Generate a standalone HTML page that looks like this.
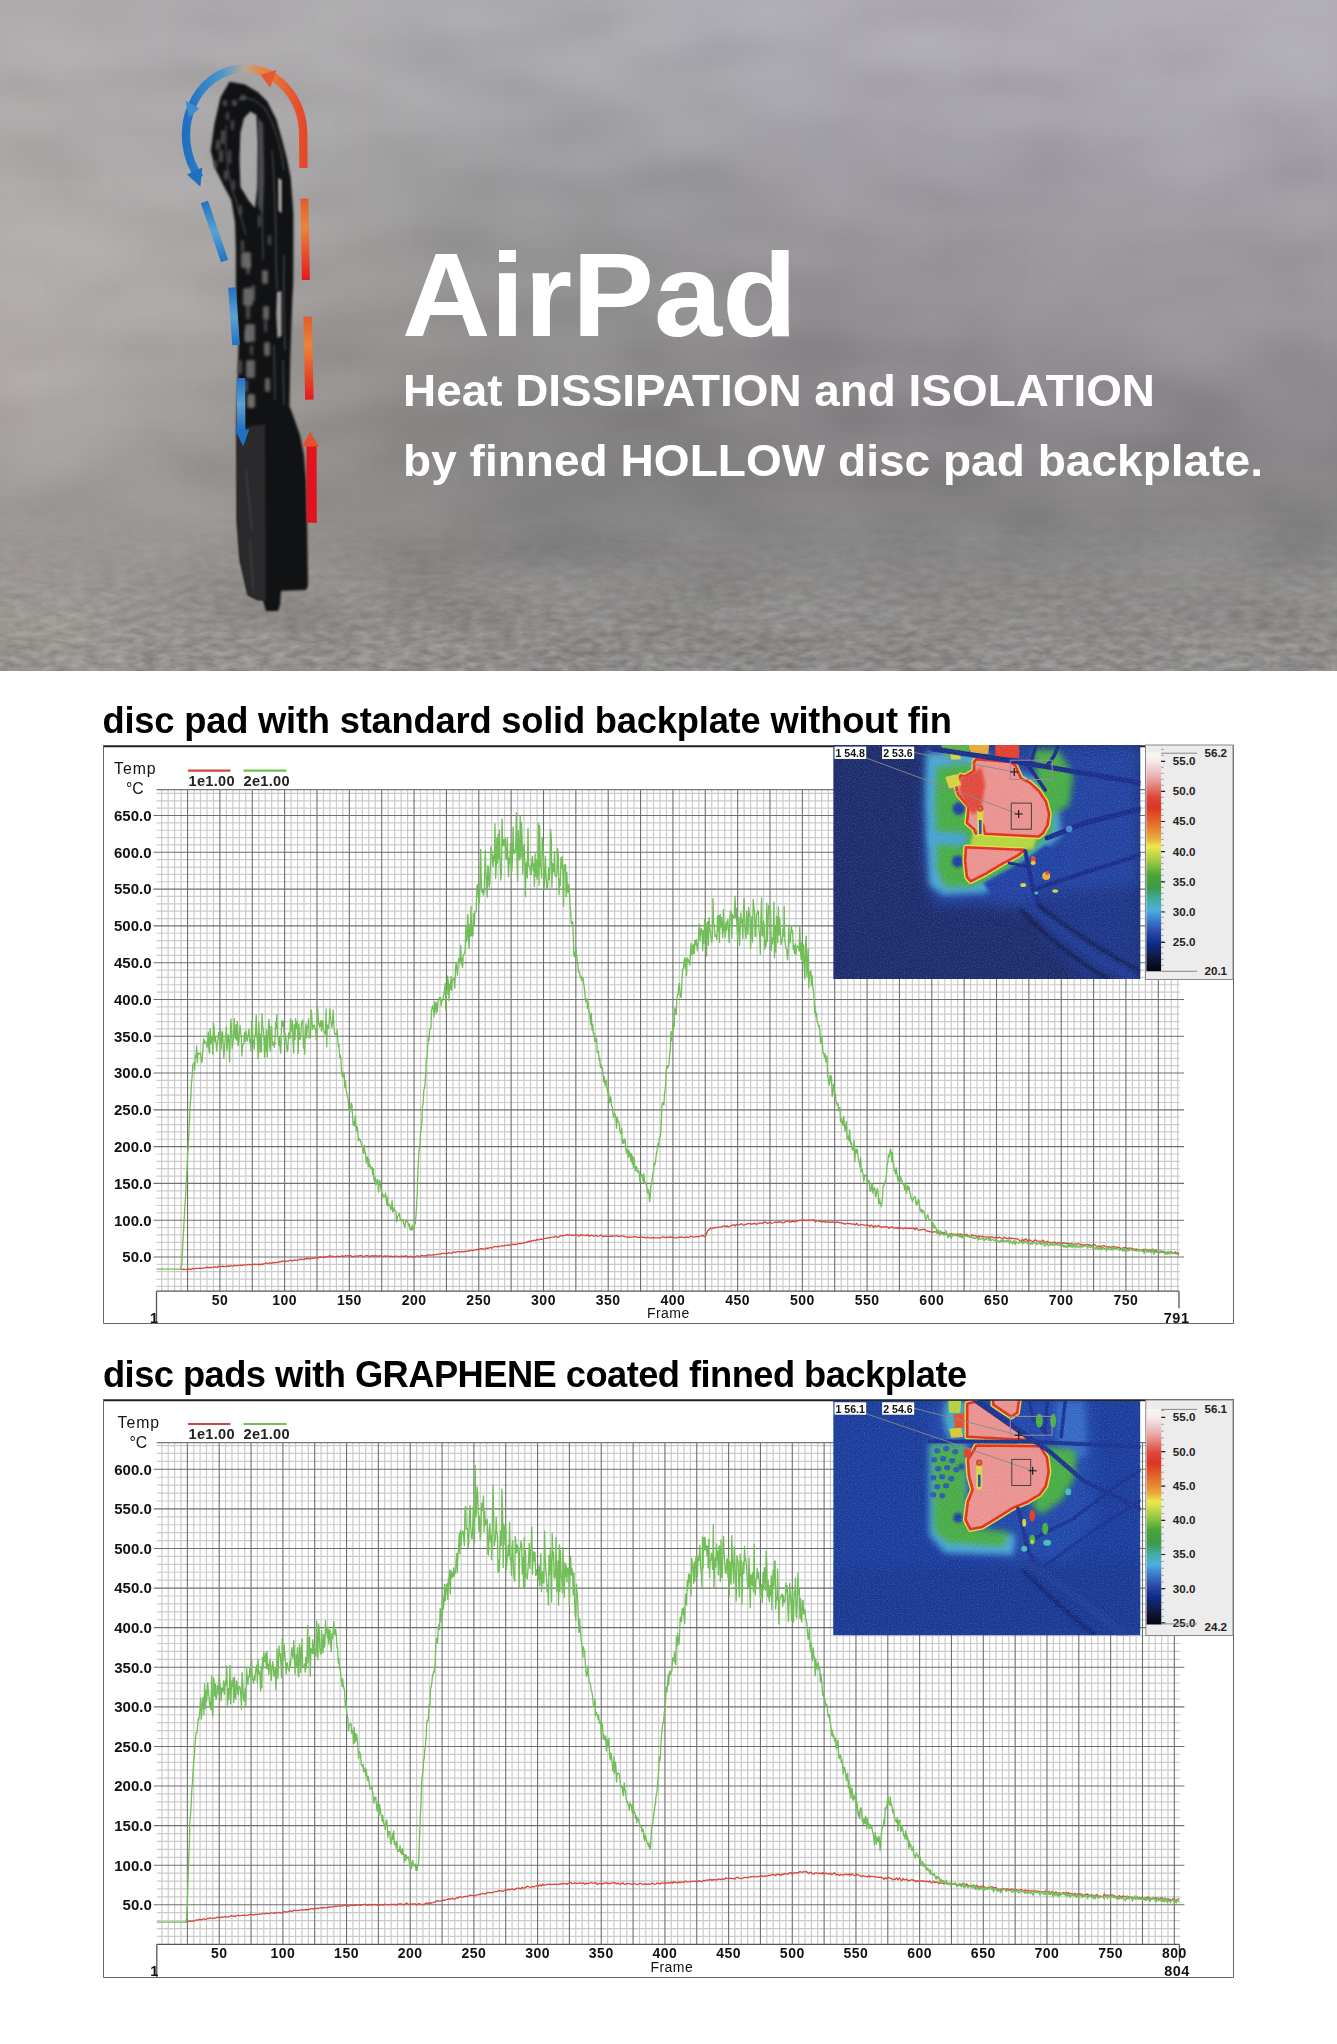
<!DOCTYPE html>
<html><head><meta charset="utf-8"><title>AirPad</title>
<style>
html,body{margin:0;padding:0;background:#fff;}
body{width:1337px;height:2044px;overflow:hidden;position:relative;}
.abs{position:absolute;left:0;top:0;}
.ttl{position:absolute;left:104px;font-family:"Liberation Sans",Arial,sans-serif;font-weight:bold;color:#000;white-space:nowrap;font-size:36.3px;line-height:1;transform-origin:0 0;}
svg text{font-family:"Liberation Sans",Arial,sans-serif;}
.yl{font-size:15px;font-weight:bold;text-anchor:end;fill:#111;}
.xl{font-size:14px;font-weight:bold;text-anchor:middle;fill:#111;letter-spacing:0.5px;}
.xl1{font-size:14.5px;font-weight:bold;text-anchor:end;fill:#111;}
.xlr{font-size:14.5px;font-weight:bold;text-anchor:end;fill:#111;letter-spacing:0.5px;}
.fr{font-size:14px;fill:#111;letter-spacing:0.45px;}
.tmp{font-size:15.8px;fill:#111;letter-spacing:1px;}
.lg{font-size:14.6px;font-weight:bold;fill:#222;letter-spacing:0.3px;}
.cb{font-size:11.6px;font-weight:bold;fill:#222;}
.tl{font-size:10.6px;font-weight:bold;fill:#111;}
</style></head>
<body>
<svg class="abs" width="1337" height="671" viewBox="0 0 1337 671" style="top:0">
<defs>
<linearGradient id="hbg" x1="0" y1="0" x2="0" y2="1">
 <stop offset="0" stop-color="#aaa9ad"/>
 <stop offset="0.2" stop-color="#a7a6a9"/>
 <stop offset="0.42" stop-color="#a09fa1"/>
 <stop offset="0.55" stop-color="#959495"/>
 <stop offset="0.66" stop-color="#8c8b8b"/>
 <stop offset="0.74" stop-color="#8d8c8c"/>
 <stop offset="0.82" stop-color="#8f8f90"/>
 <stop offset="1" stop-color="#8a8a8b"/>
</linearGradient>
<filter id="hblur" color-interpolation-filters="sRGB" x="-50%" y="-50%" width="200%" height="200%"><feGaussianBlur stdDeviation="28"/></filter>
<filter id="gblur" color-interpolation-filters="sRGB" x="-10%" y="-10%" width="120%" height="120%"><feGaussianBlur stdDeviation="45"/></filter>
<filter id="hblur2" color-interpolation-filters="sRGB" x="-50%" y="-50%" width="200%" height="200%"><feGaussianBlur stdDeviation="12"/></filter>
<filter id="pblur" color-interpolation-filters="sRGB" x="-20%" y="-20%" width="140%" height="140%"><feGaussianBlur stdDeviation="0.8"/></filter>
<filter id="pblur2" color-interpolation-filters="sRGB" x="-50%" y="-50%" width="200%" height="200%"><feGaussianBlur stdDeviation="1.6"/></filter>
<filter id="cloud" color-interpolation-filters="sRGB" x="0" y="0" width="100%" height="100%">
  <feTurbulence type="fractalNoise" baseFrequency="0.008 0.03" numOctaves="3" seed="2" result="n"/>
  <feColorMatrix in="n" type="matrix" values="1.3 0 0 0 -0.15  1.3 0 0 0 -0.15  1.3 0 0 0 -0.15  0 0 0 0 1"/>
  <feGaussianBlur stdDeviation="10"/>
</filter>
<filter id="floor3" color-interpolation-filters="sRGB" x="0" y="0" width="100%" height="100%">
  <feTurbulence type="fractalNoise" baseFrequency="0.07 0.16" numOctaves="3" seed="11" result="n"/>
  <feColorMatrix in="n" type="matrix" values="1.4 0 0 0 -0.2  1.4 0 0 0 -0.2  1.4 0 0 0 -0.2  0 0 0 0 1"/>
</filter>
<linearGradient id="fmask3" x1="0" y1="0" x2="0" y2="1">
 <stop offset="0" stop-color="#fff" stop-opacity="0"/>
 <stop offset="0.4" stop-color="#fff" stop-opacity="0.3"/>
 <stop offset="1" stop-color="#fff" stop-opacity="1"/>
</linearGradient>
<mask id="fm3"><rect x="0" y="500" width="1337" height="171" fill="url(#fmask3)"/></mask>
<filter id="floor" color-interpolation-filters="sRGB" x="0" y="0" width="100%" height="100%">
  <feTurbulence type="fractalNoise" baseFrequency="0.02 0.06" numOctaves="4" seed="5" result="n"/>
  <feColorMatrix in="n" type="matrix" values="0 0 0 0 0.62  0 0 0 0 0.62  0 0 0 0 0.62  1.8 0 0 0 -0.7" result="a"/>
</filter>
<filter id="floor2" color-interpolation-filters="sRGB" x="0" y="0" width="100%" height="100%">
  <feTurbulence type="fractalNoise" baseFrequency="0.35" numOctaves="2" seed="9" result="n"/>
  <feColorMatrix in="n" type="matrix" values="0 0 0 0 0.75  0 0 0 0 0.75  0 0 0 0 0.75  0 0 0 2.2 -0.95"/>
</filter>
<linearGradient id="fmask" x1="0" y1="0" x2="0" y2="1">
 <stop offset="0" stop-color="#fff" stop-opacity="0"/>
 <stop offset="0.35" stop-color="#fff" stop-opacity="0.25"/>
 <stop offset="0.7" stop-color="#fff" stop-opacity="0.8"/>
 <stop offset="1" stop-color="#fff" stop-opacity="1"/>
</linearGradient>
<mask id="fm"><rect x="0" y="430" width="1337" height="241" fill="url(#fmask)"/></mask>
<linearGradient id="arcg" x1="186" y1="0" x2="304" y2="0" gradientUnits="userSpaceOnUse">
 <stop offset="0" stop-color="#1f6fc2"/>
 <stop offset="0.3" stop-color="#4a96cc"/>
 <stop offset="0.5" stop-color="#b8a89a"/>
 <stop offset="0.65" stop-color="#e8843c"/>
 <stop offset="1" stop-color="#e4482a"/>
</linearGradient>
<linearGradient id="blueg" x1="0" y1="0" x2="0" y2="1">
 <stop offset="0" stop-color="#2272c4"/>
 <stop offset="0.5" stop-color="#5aa2d2"/>
 <stop offset="1" stop-color="#2272c4"/>
</linearGradient>
<linearGradient id="orag" x1="0" y1="0" x2="0" y2="1">
 <stop offset="0" stop-color="#e35a2c"/>
 <stop offset="0.35" stop-color="#e8863a"/>
 <stop offset="1" stop-color="#e41a1c"/>
</linearGradient>
</defs>
<rect width="1337" height="671" fill="#9a999b"/>
<g filter="url(#gblur)">
<rect x="-96.0" y="-96.4" width="96.5" height="96.9" fill="#afacad"/>
<rect x="-0.5" y="-96.4" width="96.5" height="96.9" fill="#afacad"/>
<rect x="95.0" y="-96.4" width="96.5" height="96.9" fill="#acaaac"/>
<rect x="190.5" y="-96.4" width="96.5" height="96.9" fill="#aaa8aa"/>
<rect x="286.0" y="-96.4" width="96.5" height="96.9" fill="#acaaac"/>
<rect x="381.5" y="-96.4" width="96.5" height="96.9" fill="#abaaad"/>
<rect x="477.0" y="-96.4" width="96.5" height="96.9" fill="#aaaaae"/>
<rect x="572.5" y="-96.4" width="96.5" height="96.9" fill="#acacb1"/>
<rect x="668.0" y="-96.4" width="96.5" height="96.9" fill="#adacb2"/>
<rect x="763.5" y="-96.4" width="96.5" height="96.9" fill="#aeabb3"/>
<rect x="859.0" y="-96.4" width="96.5" height="96.9" fill="#adaab3"/>
<rect x="954.5" y="-96.4" width="96.5" height="96.9" fill="#aca9b2"/>
<rect x="1050.0" y="-96.4" width="96.5" height="96.9" fill="#aeabb4"/>
<rect x="1145.5" y="-96.4" width="96.5" height="96.9" fill="#b0adb6"/>
<rect x="1241.0" y="-96.4" width="96.5" height="96.9" fill="#b0adb6"/>
<rect x="1336.5" y="-96.4" width="96.5" height="96.9" fill="#b0adb6"/>
<rect x="-96.0" y="-0.5" width="96.5" height="96.9" fill="#afacad"/>
<rect x="-0.5" y="-0.5" width="96.5" height="96.9" fill="#afacad"/>
<rect x="95.0" y="-0.5" width="96.5" height="96.9" fill="#acaaac"/>
<rect x="190.5" y="-0.5" width="96.5" height="96.9" fill="#aaa8aa"/>
<rect x="286.0" y="-0.5" width="96.5" height="96.9" fill="#acaaac"/>
<rect x="381.5" y="-0.5" width="96.5" height="96.9" fill="#abaaad"/>
<rect x="477.0" y="-0.5" width="96.5" height="96.9" fill="#aaaaae"/>
<rect x="572.5" y="-0.5" width="96.5" height="96.9" fill="#acacb1"/>
<rect x="668.0" y="-0.5" width="96.5" height="96.9" fill="#adacb2"/>
<rect x="763.5" y="-0.5" width="96.5" height="96.9" fill="#aeabb3"/>
<rect x="859.0" y="-0.5" width="96.5" height="96.9" fill="#adaab3"/>
<rect x="954.5" y="-0.5" width="96.5" height="96.9" fill="#aca9b2"/>
<rect x="1050.0" y="-0.5" width="96.5" height="96.9" fill="#aeabb4"/>
<rect x="1145.5" y="-0.5" width="96.5" height="96.9" fill="#b0adb6"/>
<rect x="1241.0" y="-0.5" width="96.5" height="96.9" fill="#b0adb6"/>
<rect x="1336.5" y="-0.5" width="96.5" height="96.9" fill="#b0adb6"/>
<rect x="-96.0" y="95.4" width="96.5" height="96.9" fill="#aba8a8"/>
<rect x="-0.5" y="95.4" width="96.5" height="96.9" fill="#aba8a8"/>
<rect x="95.0" y="95.4" width="96.5" height="96.9" fill="#acaaab"/>
<rect x="190.5" y="95.4" width="96.5" height="96.9" fill="#a8a6a7"/>
<rect x="286.0" y="95.4" width="96.5" height="96.9" fill="#a8a6a7"/>
<rect x="381.5" y="95.4" width="96.5" height="96.9" fill="#a4a3a5"/>
<rect x="477.0" y="95.4" width="96.5" height="96.9" fill="#9f9fa2"/>
<rect x="572.5" y="95.4" width="96.5" height="96.9" fill="#a0a0a4"/>
<rect x="668.0" y="95.4" width="96.5" height="96.9" fill="#a1a0a5"/>
<rect x="763.5" y="95.4" width="96.5" height="96.9" fill="#a3a0a7"/>
<rect x="859.0" y="95.4" width="96.5" height="96.9" fill="#a19ea6"/>
<rect x="954.5" y="95.4" width="96.5" height="96.9" fill="#a29fa7"/>
<rect x="1050.0" y="95.4" width="96.5" height="96.9" fill="#a5a2aa"/>
<rect x="1145.5" y="95.4" width="96.5" height="96.9" fill="#a6a3ab"/>
<rect x="1241.0" y="95.4" width="96.5" height="96.9" fill="#a4a1a9"/>
<rect x="1336.5" y="95.4" width="96.5" height="96.9" fill="#a4a1a9"/>
<rect x="-96.0" y="191.2" width="96.5" height="96.9" fill="#b2aeac"/>
<rect x="-0.5" y="191.2" width="96.5" height="96.9" fill="#b2aeac"/>
<rect x="95.0" y="191.2" width="96.5" height="96.9" fill="#afacab"/>
<rect x="190.5" y="191.2" width="96.5" height="96.9" fill="#a9a6a5"/>
<rect x="286.0" y="191.2" width="96.5" height="96.9" fill="#a3a09f"/>
<rect x="381.5" y="191.2" width="96.5" height="96.9" fill="#9a9898"/>
<rect x="477.0" y="191.2" width="96.5" height="96.9" fill="#959495"/>
<rect x="572.5" y="191.2" width="96.5" height="96.9" fill="#939294"/>
<rect x="668.0" y="191.2" width="96.5" height="96.9" fill="#949295"/>
<rect x="763.5" y="191.2" width="96.5" height="96.9" fill="#969297"/>
<rect x="859.0" y="191.2" width="96.5" height="96.9" fill="#979399"/>
<rect x="954.5" y="191.2" width="96.5" height="96.9" fill="#9a969c"/>
<rect x="1050.0" y="191.2" width="96.5" height="96.9" fill="#9c989e"/>
<rect x="1145.5" y="191.2" width="96.5" height="96.9" fill="#9d999f"/>
<rect x="1241.0" y="191.2" width="96.5" height="96.9" fill="#9d999f"/>
<rect x="1336.5" y="191.2" width="96.5" height="96.9" fill="#9d999f"/>
<rect x="-96.0" y="287.1" width="96.5" height="96.9" fill="#b1aca9"/>
<rect x="-0.5" y="287.1" width="96.5" height="96.9" fill="#b1aca9"/>
<rect x="95.0" y="287.1" width="96.5" height="96.9" fill="#aca8a6"/>
<rect x="190.5" y="287.1" width="96.5" height="96.9" fill="#a4a09e"/>
<rect x="286.0" y="287.1" width="96.5" height="96.9" fill="#9c9896"/>
<rect x="381.5" y="287.1" width="96.5" height="96.9" fill="#959291"/>
<rect x="477.0" y="287.1" width="96.5" height="96.9" fill="#929090"/>
<rect x="572.5" y="287.1" width="96.5" height="96.9" fill="#918f90"/>
<rect x="668.0" y="287.1" width="96.5" height="96.9" fill="#928f91"/>
<rect x="763.5" y="287.1" width="96.5" height="96.9" fill="#948f93"/>
<rect x="859.0" y="287.1" width="96.5" height="96.9" fill="#959095"/>
<rect x="954.5" y="287.1" width="96.5" height="96.9" fill="#979297"/>
<rect x="1050.0" y="287.1" width="96.5" height="96.9" fill="#9a959a"/>
<rect x="1145.5" y="287.1" width="96.5" height="96.9" fill="#9a959a"/>
<rect x="1241.0" y="287.1" width="96.5" height="96.9" fill="#9a959a"/>
<rect x="1336.5" y="287.1" width="96.5" height="96.9" fill="#9a959a"/>
<rect x="-96.0" y="382.9" width="96.5" height="96.9" fill="#a7a29f"/>
<rect x="-0.5" y="382.9" width="96.5" height="96.9" fill="#a7a29f"/>
<rect x="95.0" y="382.9" width="96.5" height="96.9" fill="#a29e9c"/>
<rect x="190.5" y="382.9" width="96.5" height="96.9" fill="#9a9694"/>
<rect x="286.0" y="382.9" width="96.5" height="96.9" fill="#928e8c"/>
<rect x="381.5" y="382.9" width="96.5" height="96.9" fill="#888584"/>
<rect x="477.0" y="382.9" width="96.5" height="96.9" fill="#828080"/>
<rect x="572.5" y="382.9" width="96.5" height="96.9" fill="#807e7f"/>
<rect x="668.0" y="382.9" width="96.5" height="96.9" fill="#817e80"/>
<rect x="763.5" y="382.9" width="96.5" height="96.9" fill="#837e82"/>
<rect x="859.0" y="382.9" width="96.5" height="96.9" fill="#837e83"/>
<rect x="954.5" y="382.9" width="96.5" height="96.9" fill="#837e83"/>
<rect x="1050.0" y="382.9" width="96.5" height="96.9" fill="#858085"/>
<rect x="1145.5" y="382.9" width="96.5" height="96.9" fill="#868186"/>
<rect x="1241.0" y="382.9" width="96.5" height="96.9" fill="#878287"/>
<rect x="1336.5" y="382.9" width="96.5" height="96.9" fill="#878287"/>
<rect x="-96.0" y="478.8" width="96.5" height="96.9" fill="#9c9895"/>
<rect x="-0.5" y="478.8" width="96.5" height="96.9" fill="#9c9895"/>
<rect x="95.0" y="478.8" width="96.5" height="96.9" fill="#999694"/>
<rect x="190.5" y="478.8" width="96.5" height="96.9" fill="#959290"/>
<rect x="286.0" y="478.8" width="96.5" height="96.9" fill="#8f8c8a"/>
<rect x="381.5" y="478.8" width="96.5" height="96.9" fill="#898786"/>
<rect x="477.0" y="478.8" width="96.5" height="96.9" fill="#858484"/>
<rect x="572.5" y="478.8" width="96.5" height="96.9" fill="#848383"/>
<rect x="668.0" y="478.8" width="96.5" height="96.9" fill="#858484"/>
<rect x="763.5" y="478.8" width="96.5" height="96.9" fill="#868585"/>
<rect x="859.0" y="478.8" width="96.5" height="96.9" fill="#868585"/>
<rect x="954.5" y="478.8" width="96.5" height="96.9" fill="#868585"/>
<rect x="1050.0" y="478.8" width="96.5" height="96.9" fill="#878686"/>
<rect x="1145.5" y="478.8" width="96.5" height="96.9" fill="#888787"/>
<rect x="1241.0" y="478.8" width="96.5" height="96.9" fill="#888787"/>
<rect x="1336.5" y="478.8" width="96.5" height="96.9" fill="#888787"/>
<rect x="-96.0" y="574.6" width="96.5" height="96.9" fill="#9d9893"/>
<rect x="-0.5" y="574.6" width="96.5" height="96.9" fill="#9d9893"/>
<rect x="95.0" y="574.6" width="96.5" height="96.9" fill="#9b9793"/>
<rect x="190.5" y="574.6" width="96.5" height="96.9" fill="#999591"/>
<rect x="286.0" y="574.6" width="96.5" height="96.9" fill="#96928e"/>
<rect x="381.5" y="574.6" width="96.5" height="96.9" fill="#93908d"/>
<rect x="477.0" y="574.6" width="96.5" height="96.9" fill="#918f8d"/>
<rect x="572.5" y="574.6" width="96.5" height="96.9" fill="#908e8c"/>
<rect x="668.0" y="574.6" width="96.5" height="96.9" fill="#908e8c"/>
<rect x="763.5" y="574.6" width="96.5" height="96.9" fill="#908e8c"/>
<rect x="859.0" y="574.6" width="96.5" height="96.9" fill="#908e8c"/>
<rect x="954.5" y="574.6" width="96.5" height="96.9" fill="#908e8c"/>
<rect x="1050.0" y="574.6" width="96.5" height="96.9" fill="#918f8d"/>
<rect x="1145.5" y="574.6" width="96.5" height="96.9" fill="#92908e"/>
<rect x="1241.0" y="574.6" width="96.5" height="96.9" fill="#918f8d"/>
<rect x="1336.5" y="574.6" width="96.5" height="96.9" fill="#918f8d"/>
<rect x="-96.0" y="670.5" width="96.5" height="96.9" fill="#9d9893"/>
<rect x="-0.5" y="670.5" width="96.5" height="96.9" fill="#9d9893"/>
<rect x="95.0" y="670.5" width="96.5" height="96.9" fill="#9b9793"/>
<rect x="190.5" y="670.5" width="96.5" height="96.9" fill="#999591"/>
<rect x="286.0" y="670.5" width="96.5" height="96.9" fill="#96928e"/>
<rect x="381.5" y="670.5" width="96.5" height="96.9" fill="#93908d"/>
<rect x="477.0" y="670.5" width="96.5" height="96.9" fill="#918f8d"/>
<rect x="572.5" y="670.5" width="96.5" height="96.9" fill="#908e8c"/>
<rect x="668.0" y="670.5" width="96.5" height="96.9" fill="#908e8c"/>
<rect x="763.5" y="670.5" width="96.5" height="96.9" fill="#908e8c"/>
<rect x="859.0" y="670.5" width="96.5" height="96.9" fill="#908e8c"/>
<rect x="954.5" y="670.5" width="96.5" height="96.9" fill="#908e8c"/>
<rect x="1050.0" y="670.5" width="96.5" height="96.9" fill="#918f8d"/>
<rect x="1145.5" y="670.5" width="96.5" height="96.9" fill="#92908e"/>
<rect x="1241.0" y="670.5" width="96.5" height="96.9" fill="#918f8d"/>
<rect x="1336.5" y="670.5" width="96.5" height="96.9" fill="#918f8d"/>
</g>
<rect width="1337" height="671" filter="url(#cloud)" opacity="0.22" style="mix-blend-mode:soft-light"/>
<g mask="url(#fm)">
<rect x="0" y="430" width="1337" height="241" filter="url(#floor)" opacity="0.08"/>
</g>
<g mask="url(#fm3)"><rect x="0" y="500" width="1337" height="171" filter="url(#floor3)" opacity="0.17" style="mix-blend-mode:overlay"/></g>
<g filter="url(#hblur2)"><ellipse cx="272" cy="612" rx="70" ry="10" fill="#6a6a6a" opacity="0.5"/></g>
<path d="M229.6,81.7 244.9,84.4 258.3,92.4 267.3,101.4 276.3,119.4 282.6,141.8 287.1,159.8 290.7,177.7 293.4,213.6 293.4,250.0 293.2,283.0 292.3,300.0 290.3,357.0 289.4,406.0 293.3,416.0 300.1,435.7 304.0,455.0 306.0,480.0 307.0,520.0 308.0,586.0 306.0,590.0 281.0,591.0 280.0,605.0 278.0,611.0 266.0,611.0 264.0,604.0 263.0,600.0 258.0,600.0 248.0,595.0 240.0,560.0 237.0,520.0 236.5,420.0 238.5,347.0 236.0,300.0 235.9,250.0 235.0,222.6 231.4,200.2 223.3,184.9 215.3,168.7 210.8,150.8 214.4,123.9 220.6,96.9Z" fill="#111214" filter="url(#pblur)"/>
<path d="M237.0,432.0 250.0,426.0 265.0,424.0 266.0,600.0 258.0,600.0 248.0,595.0 240.0,560.0 237.0,520.0Z" fill="#2a2a2c" filter="url(#pblur)"/>
<path d="M246,470 L252,530 M250,540 L253,590" stroke="#3c3c3e" stroke-width="2" fill="none" filter="url(#pblur)"/>
<path d="M250.3,111.5 256.5,115.0 258.0,141.8 257.5,186.7 255.0,208.0 248.5,200.2 240.4,186.7 239.5,159.8 240.4,132.8 244.0,118.0Z" fill="#a9a7a8" filter="url(#pblur)"/>
<path d="M258.0,118.0 263.0,124.0 264.0,180.0 262.0,215.0 258.0,205.0 258.5,140.0Z" fill="#5a5b5e" opacity="0.8" filter="url(#pblur2)"/>
<path d="M277.0,292.0 281.5,291.0 281.5,336.0 277.5,338.0 276.2,315.0Z" fill="#a09e9f" filter="url(#pblur)"/>
<path d="M278.2,178.0 281.7,180.0 281.7,213.0 278.5,211.0Z" fill="#b0aeae" filter="url(#pblur)"/>
<g filter="url(#pblur2)" fill="#58585a" opacity="0.85">
<rect x="221" y="130" width="4" height="14" rx="1.5"/>
<rect x="219" y="150" width="4" height="12" rx="1.5"/>
<rect x="224" y="170" width="4" height="10" rx="1.5"/>
<rect x="231" y="120" width="3" height="10" rx="1.5"/>
<rect x="246" y="262" width="4" height="12" rx="1.5"/>
<rect x="251" y="285" width="4" height="16" rx="1.5"/>
<rect x="246" y="305" width="4" height="14" rx="1.5"/>
<rect x="241" y="240" width="3" height="12" rx="1.5"/>
<rect x="245" y="330" width="4" height="12" rx="1.5"/>
<rect x="250" y="345" width="3" height="10" rx="1.5"/>
<rect x="258" y="215" width="3" height="12" rx="1.5"/>
<rect x="232" y="100" width="5" height="6" rx="1.5"/>
<rect x="240" y="95" width="6" height="5" rx="1.5"/>
<rect x="238" y="360" width="4" height="14" rx="1.5"/>
<rect x="244" y="380" width="4" height="12" rx="1.5"/>
<rect x="250" y="395" width="3" height="12" rx="1.5"/>
<rect x="226" y="112" width="3" height="8" rx="1.5"/>
<rect x="268" y="235" width="3" height="10" rx="1.5"/>
<rect x="264" y="320" width="3" height="12" rx="1.5"/>
<rect x="216" y="140" width="4" height="10" rx="1.5"/>
<rect x="228" y="150" width="3" height="14" rx="1.5"/>
<rect x="232" y="180" width="3" height="10" rx="1.5"/>
<rect x="239" y="205" width="3" height="10" rx="1.5"/>
<rect x="214" y="160" width="3" height="8" rx="1.5"/>
<rect x="223" y="100" width="4" height="6" rx="1.5"/>
</g>
<g filter="url(#pblur2)" fill="#767474" opacity="0.85">
<rect x="241" y="252" width="10" height="16" rx="2"/>
<rect x="243" y="288" width="10" height="18" rx="2"/>
<rect x="245" y="324" width="10" height="18" rx="2"/>
<rect x="246" y="360" width="9" height="18" rx="2"/>
<rect x="247" y="394" width="8" height="14" rx="2"/>
<rect x="262" y="270" width="6" height="14" rx="2"/>
<rect x="263" y="306" width="6" height="14" rx="2"/>
<rect x="264" y="342" width="6" height="14" rx="2"/>
<rect x="265" y="378" width="5" height="14" rx="2"/>
</g>
<g stroke="#505458" stroke-width="1.3" fill="none" opacity="0.8" filter="url(#pblur)">
<path d="M238,100 Q252,94 266,110 Q280,135 284,170"/>
<path d="M226,125 Q224,170 236,200 L246,235"/>
<path d="M259,120 Q263,150 262,200 L263,260"/>
<path d="M272,150 Q276,200 276,260 L277,290"/>
<path d="M284,255 Q283,300 285,350"/>
<path d="M274,345 L275,400 M283,360 L284,405"/>
</g>
<path d="M199.9,178 A58.6,66.5 0 0 1 244.6,68.5 A58.6,66.5 0 0 1 303.2,135 L303.4,168" stroke="url(#arcg)" stroke-width="8.4" fill="none"/>
<path d="M187.0,174.5 202.3,167.5 200.4,186.8Z" fill="#2070c0"/>
<path d="M185.6,100.8 199.3,108.4 188.8,117.6Z" fill="#3d8ccc"/>
<path d="M260.6,74.8 276.6,70.0 270.0,87.5Z" fill="#e6582e"/>
<path d="M204.4,202 L224.6,261" stroke="url(#blueg)" stroke-width="7.6" fill="none"/>
<path d="M232,287.5 L236,345" stroke="url(#blueg)" stroke-width="7.6" fill="none"/>
<path d="M241,378 L241.3,430" stroke="url(#blueg)" stroke-width="8.3" fill="none"/>
<path d="M234.9,429.5 249.2,429.5 243.2,446.5Z" fill="#2070c0"/>
<path d="M304.4,198.6 L305.9,280" stroke="url(#orag)" stroke-width="8" fill="none"/>
<path d="M307.6,316.6 L309.4,399.7" stroke="url(#orag)" stroke-width="8.5" fill="none"/>
<path d="M311.5,445.5 L311.7,522.8" stroke="#df141c" stroke-width="10.2" fill="none"/>
<path d="M302.0,446.6 319.0,446.6 310.2,432.0Z" fill="#e4502c"/>
<text x="402" y="336" fill="#fff" font-family="Liberation Sans, Arial, sans-serif" font-weight="bold" font-size="118" textLength="395" lengthAdjust="spacingAndGlyphs" id="hAir">AirPad</text>
<text x="403" y="405.5" fill="#fff" font-family="Liberation Sans, Arial, sans-serif" font-weight="bold" font-size="43.5" textLength="752" lengthAdjust="spacingAndGlyphs" id="hL1">Heat DISSIPATION and ISOLATION</text>
<text x="403" y="475.6" fill="#fff" font-family="Liberation Sans, Arial, sans-serif" font-weight="bold" font-size="43.5" textLength="860" lengthAdjust="spacingAndGlyphs" id="hL2">by finned HOLLOW disc pad backplate.</text>
</svg>
<div class="ttl" id="t1" style="top:702.5px;left:102.5px;letter-spacing:-0.2px;">disc pad with standard solid backplate without fin</div>
<div class="ttl" id="t2" style="top:1357px;left:103px;letter-spacing:-0.55px;">disc pads with GRAPHENE coated finned backplate</div>
<svg class="abs" width="1337" height="2044" viewBox="0 0 1337 2044" style="top:0">
<rect x="103" y="745.2" width="1131" height="578.8" fill="#fff" stroke="none"/>
<path d="M156.5 1286.43H1180M156.5 1279.07H1180M156.5 1271.72H1180M156.5 1264.36H1180M156.5 1249.64H1180M156.5 1242.28H1180M156.5 1234.93H1180M156.5 1227.57H1180M156.5 1212.85H1180M156.5 1205.49H1180M156.5 1198.14H1180M156.5 1190.78H1180M156.5 1176.06H1180M156.5 1168.7H1180M156.5 1161.35H1180M156.5 1153.99H1180M156.5 1139.27H1180M156.5 1131.91H1180M156.5 1124.56H1180M156.5 1117.2H1180M156.5 1102.48H1180M156.5 1095.12H1180M156.5 1087.77H1180M156.5 1080.41H1180M156.5 1065.69H1180M156.5 1058.33H1180M156.5 1050.98H1180M156.5 1043.62H1180M156.5 1028.9H1180M156.5 1021.54H1180M156.5 1014.19H1180M156.5 1006.83H1180M156.5 992.11H1180M156.5 984.75H1180M156.5 977.4H1180M156.5 970.04H1180M156.5 955.32H1180M156.5 947.96H1180M156.5 940.61H1180M156.5 933.25H1180M156.5 918.53H1180M156.5 911.17H1180M156.5 903.82H1180M156.5 896.46H1180M156.5 881.74H1180M156.5 874.38H1180M156.5 867.03H1180M156.5 859.67H1180M156.5 844.95H1180M156.5 837.59H1180M156.5 830.24H1180M156.5 822.88H1180M156.5 808.16H1180M156.5 800.8H1180M156.5 793.45H1180M161.68 789.6V1291.2M168.15 789.6V1291.2M174.62 789.6V1291.2M181.09 789.6V1291.2M194.03 789.6V1291.2M200.51 789.6V1291.2M206.98 789.6V1291.2M213.45 789.6V1291.2M226.39 789.6V1291.2M232.86 789.6V1291.2M239.34 789.6V1291.2M245.81 789.6V1291.2M258.75 789.6V1291.2M265.22 789.6V1291.2M271.69 789.6V1291.2M278.16 789.6V1291.2M291.11 789.6V1291.2M297.58 789.6V1291.2M304.05 789.6V1291.2M310.52 789.6V1291.2M323.46 789.6V1291.2M329.94 789.6V1291.2M336.41 789.6V1291.2M342.88 789.6V1291.2M355.82 789.6V1291.2M362.29 789.6V1291.2M368.77 789.6V1291.2M375.24 789.6V1291.2M388.18 789.6V1291.2M394.65 789.6V1291.2M401.12 789.6V1291.2M407.59 789.6V1291.2M420.54 789.6V1291.2M427.01 789.6V1291.2M433.48 789.6V1291.2M439.95 789.6V1291.2M452.89 789.6V1291.2M459.37 789.6V1291.2M465.84 789.6V1291.2M472.31 789.6V1291.2M485.25 789.6V1291.2M491.72 789.6V1291.2M498.2 789.6V1291.2M504.67 789.6V1291.2M517.61 789.6V1291.2M524.08 789.6V1291.2M530.55 789.6V1291.2M537.02 789.6V1291.2M549.97 789.6V1291.2M556.44 789.6V1291.2M562.91 789.6V1291.2M569.38 789.6V1291.2M582.32 789.6V1291.2M588.8 789.6V1291.2M595.27 789.6V1291.2M601.74 789.6V1291.2M614.68 789.6V1291.2M621.15 789.6V1291.2M627.63 789.6V1291.2M634.1 789.6V1291.2M647.04 789.6V1291.2M653.51 789.6V1291.2M659.98 789.6V1291.2M666.45 789.6V1291.2M679.4 789.6V1291.2M685.87 789.6V1291.2M692.34 789.6V1291.2M698.81 789.6V1291.2M711.75 789.6V1291.2M718.23 789.6V1291.2M724.7 789.6V1291.2M731.17 789.6V1291.2M744.11 789.6V1291.2M750.58 789.6V1291.2M757.06 789.6V1291.2M763.53 789.6V1291.2M776.47 789.6V1291.2M782.94 789.6V1291.2M789.41 789.6V1291.2M795.88 789.6V1291.2M808.83 789.6V1291.2M815.3 789.6V1291.2M821.77 789.6V1291.2M828.24 789.6V1291.2M841.18 789.6V1291.2M847.66 789.6V1291.2M854.13 789.6V1291.2M860.6 789.6V1291.2M873.54 789.6V1291.2M880.01 789.6V1291.2M886.49 789.6V1291.2M892.96 789.6V1291.2M905.9 789.6V1291.2M912.37 789.6V1291.2M918.84 789.6V1291.2M925.31 789.6V1291.2M938.26 789.6V1291.2M944.73 789.6V1291.2M951.2 789.6V1291.2M957.67 789.6V1291.2M970.61 789.6V1291.2M977.09 789.6V1291.2M983.56 789.6V1291.2M990.03 789.6V1291.2M1002.97 789.6V1291.2M1009.44 789.6V1291.2M1015.92 789.6V1291.2M1022.39 789.6V1291.2M1035.33 789.6V1291.2M1041.8 789.6V1291.2M1048.27 789.6V1291.2M1054.74 789.6V1291.2M1067.69 789.6V1291.2M1074.16 789.6V1291.2M1080.63 789.6V1291.2M1087.1 789.6V1291.2M1100.04 789.6V1291.2M1106.52 789.6V1291.2M1112.99 789.6V1291.2M1119.46 789.6V1291.2M1132.4 789.6V1291.2M1138.87 789.6V1291.2M1145.35 789.6V1291.2M1151.82 789.6V1291.2M1164.76 789.6V1291.2M1171.23 789.6V1291.2M1177.7 789.6V1291.2" stroke="#cbcbcb" stroke-width="1.2" fill="none"/>
<path d="M153.5 1257H1184M153.5 1220.21H1184M153.5 1183.42H1184M153.5 1146.63H1184M153.5 1109.84H1184M153.5 1073.05H1184M153.5 1036.26H1184M153.5 999.47H1184M153.5 962.68H1184M153.5 925.89H1184M153.5 889.1H1184M153.5 852.31H1184M153.5 815.52H1184M187.56 789.6V1291.2M219.92 789.6V1291.2M252.28 789.6V1291.2M284.64 789.6V1291.2M316.99 789.6V1291.2M349.35 789.6V1291.2M381.71 789.6V1291.2M414.07 789.6V1291.2M446.42 789.6V1291.2M478.78 789.6V1291.2M511.14 789.6V1291.2M543.5 789.6V1291.2M575.85 789.6V1291.2M608.21 789.6V1291.2M640.57 789.6V1291.2M672.93 789.6V1291.2M705.28 789.6V1291.2M737.64 789.6V1291.2M770 789.6V1291.2M802.36 789.6V1291.2M834.71 789.6V1291.2M867.07 789.6V1291.2M899.43 789.6V1291.2M931.79 789.6V1291.2M964.14 789.6V1291.2M996.5 789.6V1291.2M1028.86 789.6V1291.2M1061.22 789.6V1291.2M1093.57 789.6V1291.2M1125.93 789.6V1291.2M1158.29 789.6V1291.2" stroke="#6f6f6f" stroke-width="1.1" fill="none"/>
<path d="M156.5 789.6H1184" stroke="#777" stroke-width="1.2"/>
<path d="M156.5 1291.2H1179M156.5 1291.2V1323M1179 1291.2V1308.2" stroke="#555" stroke-width="1.3" fill="none"/>
<text x="151.5" y="1262.3" class="yl">50.0</text>
<text x="151.5" y="1225.51" class="yl">100.0</text>
<text x="151.5" y="1188.72" class="yl">150.0</text>
<text x="151.5" y="1151.93" class="yl">200.0</text>
<text x="151.5" y="1115.14" class="yl">250.0</text>
<text x="151.5" y="1078.35" class="yl">300.0</text>
<text x="151.5" y="1041.56" class="yl">350.0</text>
<text x="151.5" y="1004.77" class="yl">400.0</text>
<text x="151.5" y="967.98" class="yl">450.0</text>
<text x="151.5" y="931.19" class="yl">500.0</text>
<text x="151.5" y="894.4" class="yl">550.0</text>
<text x="151.5" y="857.61" class="yl">600.0</text>
<text x="151.5" y="820.82" class="yl">650.0</text>
<text x="219.92" y="1304.8" class="xl">50</text>
<text x="284.64" y="1304.8" class="xl">100</text>
<text x="349.35" y="1304.8" class="xl">150</text>
<text x="414.07" y="1304.8" class="xl">200</text>
<text x="478.78" y="1304.8" class="xl">250</text>
<text x="543.5" y="1304.8" class="xl">300</text>
<text x="608.21" y="1304.8" class="xl">350</text>
<text x="672.93" y="1304.8" class="xl">400</text>
<text x="737.64" y="1304.8" class="xl">450</text>
<text x="802.36" y="1304.8" class="xl">500</text>
<text x="867.07" y="1304.8" class="xl">550</text>
<text x="931.79" y="1304.8" class="xl">600</text>
<text x="996.5" y="1304.8" class="xl">650</text>
<text x="1061.22" y="1304.8" class="xl">700</text>
<text x="1125.93" y="1304.8" class="xl">750</text>
<text x="158" y="1323.2" class="xl1">1</text>
<text x="1189.5" y="1323.2" class="xlr">791</text>
<text x="647" y="1317.7" class="fr">Frame</text>
<text x="114" y="774" class="tmp">Temp</text>
<text x="126" y="793.5" class="tmp" style="letter-spacing:0">°C</text>
<path d="M188 770.6H230.5" stroke="#d2453c" stroke-width="2.2"/>
<path d="M243.5 770.6H286.5" stroke="#6cc14f" stroke-width="2.2"/>
<text x="188.5" y="786" class="lg">1e1.00</text>
<text x="243.5" y="786" class="lg">2e1.00</text>
<path d="M181.1,1268.9 182.4,1269.4 183.7,1269.1 185.0,1269.4 186.3,1269.6 187.6,1268.8 188.9,1269.0 190.2,1269.3 191.4,1269.1 192.7,1268.3 194.0,1268.9 195.3,1268.5 196.6,1268.4 197.9,1268.3 199.2,1268.2 200.5,1268.4 201.8,1268.3 203.1,1268.1 204.4,1268.0 205.7,1267.6 207.0,1267.2 208.3,1267.8 209.6,1267.3 210.9,1267.6 212.2,1267.4 213.4,1267.2 214.7,1267.0 216.0,1267.0 217.3,1267.5 218.6,1266.2 219.9,1266.6 221.2,1266.7 222.5,1266.2 223.8,1266.5 225.1,1266.7 226.4,1266.0 227.7,1266.0 229.0,1266.3 230.3,1265.7 231.6,1265.8 232.9,1266.2 234.2,1265.2 235.5,1265.6 236.7,1265.9 238.0,1265.4 239.3,1265.4 240.6,1265.1 241.9,1265.7 243.2,1264.9 244.5,1264.9 245.8,1264.9 247.1,1264.8 248.4,1264.5 249.7,1264.6 251.0,1264.7 252.3,1265.0 253.6,1264.3 254.9,1264.2 256.2,1264.4 257.5,1264.4 258.7,1264.1 260.0,1264.9 261.3,1263.9 262.6,1264.6 263.9,1263.7 265.2,1263.3 266.5,1262.8 267.8,1263.5 269.1,1263.0 270.4,1263.0 271.7,1263.6 273.0,1262.5 274.3,1262.6 275.6,1262.4 276.9,1262.6 278.2,1262.1 279.5,1262.0 280.8,1261.4 282.0,1261.6 283.3,1260.8 284.6,1261.5 285.9,1261.3 287.2,1261.1 288.5,1261.2 289.8,1260.3 291.1,1260.4 292.4,1260.9 293.7,1260.3 295.0,1259.8 296.3,1260.5 297.6,1259.9 298.9,1259.9 300.2,1258.9 301.5,1259.3 302.8,1259.5 304.1,1259.4 305.3,1258.4 306.6,1259.1 307.9,1258.0 309.2,1259.1 310.5,1258.5 311.8,1258.4 313.1,1258.4 314.4,1258.1 315.7,1257.6 317.0,1257.9 318.3,1258.1 319.6,1257.0 320.9,1256.8 322.2,1257.4 323.5,1256.9 324.8,1257.6 326.1,1256.3 327.3,1257.0 328.6,1256.6 329.9,1255.5 331.2,1256.7 332.5,1256.2 333.8,1256.6 335.1,1256.8 336.4,1256.6 337.7,1256.1 339.0,1256.6 340.3,1256.3 341.6,1255.9 342.9,1256.2 344.2,1256.5 345.5,1255.5 346.8,1256.0 348.1,1255.5 349.4,1256.4 350.6,1255.4 351.9,1256.5 353.2,1256.6 354.5,1256.1 355.8,1256.1 357.1,1255.8 358.4,1256.1 359.7,1255.7 361.0,1255.4 362.3,1256.1 363.6,1256.4 364.9,1256.1 366.2,1255.6 367.5,1255.7 368.8,1256.1 370.1,1256.3 371.4,1256.0 372.6,1255.7 373.9,1256.3 375.2,1255.6 376.5,1256.0 377.8,1256.0 379.1,1256.3 380.4,1255.6 381.7,1256.1 383.0,1256.7 384.3,1255.9 385.6,1256.4 386.9,1255.8 388.2,1256.2 389.5,1256.5 390.8,1256.2 392.1,1256.5 393.4,1256.6 394.7,1256.3 395.9,1256.0 397.2,1256.4 398.5,1256.4 399.8,1256.6 401.1,1256.2 402.4,1256.3 403.7,1256.1 405.0,1256.3 406.3,1255.7 407.6,1257.1 408.9,1256.6 410.2,1256.4 411.5,1256.2 412.8,1257.2 414.1,1257.1 415.4,1256.5 416.7,1256.0 417.9,1255.8 419.2,1256.7 420.5,1255.9 421.8,1255.4 423.1,1255.7 424.4,1255.9 425.7,1255.7 427.0,1255.8 428.3,1254.7 429.6,1255.1 430.9,1255.1 432.2,1255.1 433.5,1254.7 434.8,1254.8 436.1,1254.7 437.4,1254.2 438.7,1254.2 440.0,1253.8 441.2,1253.8 442.5,1253.2 443.8,1253.6 445.1,1253.3 446.4,1253.2 447.7,1253.5 449.0,1252.5 450.3,1253.1 451.6,1253.3 452.9,1252.1 454.2,1252.2 455.5,1252.5 456.8,1251.8 458.1,1251.6 459.4,1251.6 460.7,1252.1 462.0,1251.5 463.2,1251.8 464.5,1251.5 465.8,1251.3 467.1,1251.3 468.4,1250.6 469.7,1251.0 471.0,1250.3 472.3,1250.3 473.6,1250.5 474.9,1250.0 476.2,1249.6 477.5,1249.3 478.8,1249.7 480.1,1248.7 481.4,1249.0 482.7,1248.5 484.0,1249.4 485.3,1249.1 486.5,1248.0 487.8,1248.3 489.1,1247.9 490.4,1247.4 491.7,1248.3 493.0,1247.3 494.3,1246.5 495.6,1246.7 496.9,1246.8 498.2,1246.5 499.5,1246.5 500.8,1246.0 502.1,1245.6 503.4,1246.0 504.7,1245.5 506.0,1245.4 507.3,1245.0 508.5,1244.8 509.8,1245.4 511.1,1244.2 512.4,1244.2 513.7,1244.8 515.0,1244.2 516.3,1244.5 517.6,1243.9 518.9,1243.3 520.2,1243.7 521.5,1243.3 522.8,1243.1 524.1,1242.7 525.4,1242.5 526.7,1242.4 528.0,1241.4 529.3,1241.5 530.6,1241.5 531.8,1240.5 533.1,1240.9 534.4,1240.0 535.7,1240.7 537.0,1239.3 538.3,1239.8 539.6,1239.8 540.9,1238.9 542.2,1239.4 543.5,1239.0 544.8,1238.3 546.1,1238.4 547.4,1237.9 548.7,1237.8 550.0,1237.6 551.3,1237.4 552.6,1237.0 553.9,1237.1 555.1,1236.5 556.4,1236.3 557.7,1237.4 559.0,1237.1 560.3,1235.5 561.6,1236.2 562.9,1235.7 564.2,1235.7 565.5,1235.3 566.8,1234.3 568.1,1235.4 569.4,1234.9 570.7,1234.9 572.0,1235.5 573.3,1235.4 574.6,1235.2 575.9,1235.1 577.1,1235.0 578.4,1236.0 579.7,1235.9 581.0,1234.5 582.3,1235.4 583.6,1235.0 584.9,1235.5 586.2,1235.7 587.5,1234.5 588.8,1236.0 590.1,1235.9 591.4,1235.2 592.7,1235.6 594.0,1236.3 595.3,1235.6 596.6,1235.4 597.9,1236.4 599.2,1236.0 600.4,1235.4 601.7,1235.0 603.0,1236.9 604.3,1236.2 605.6,1235.9 606.9,1236.4 608.2,1236.4 609.5,1236.3 610.8,1235.9 612.1,1236.6 613.4,1235.8 614.7,1235.8 616.0,1235.8 617.3,1235.6 618.6,1236.5 619.9,1236.4 621.2,1235.9 622.4,1235.9 623.7,1236.1 625.0,1236.8 626.3,1236.9 627.6,1237.3 628.9,1237.0 630.2,1237.2 631.5,1237.1 632.8,1237.1 634.1,1236.6 635.4,1236.7 636.7,1237.2 638.0,1237.7 639.3,1237.3 640.6,1237.1 641.9,1237.0 643.2,1237.4 644.5,1237.2 645.7,1237.9 647.0,1237.4 648.3,1237.4 649.6,1238.0 650.9,1238.2 652.2,1237.3 653.5,1238.3 654.8,1237.5 656.1,1237.9 657.4,1237.9 658.7,1237.8 660.0,1237.9 661.3,1237.7 662.6,1236.8 663.9,1236.9 665.2,1237.6 666.5,1237.3 667.7,1237.1 669.0,1237.7 670.3,1236.6 671.6,1237.4 672.9,1237.1 674.2,1237.8 675.5,1237.9 676.8,1237.8 678.1,1237.6 679.4,1236.8 680.7,1237.4 682.0,1236.8 683.3,1237.4 684.6,1237.6 685.9,1237.0 687.2,1237.2 688.5,1237.7 689.8,1236.8 691.0,1236.2 692.3,1236.7 693.6,1237.1 694.9,1236.8 696.2,1236.9 697.5,1236.4 698.8,1236.6 700.1,1236.1 701.4,1235.9 702.7,1235.2 704.0,1236.4 705.3,1236.7 706.6,1233.4 707.9,1230.3 709.2,1229.6 710.5,1228.0 711.8,1228.6 713.0,1228.1 714.3,1227.5 715.6,1227.8 716.9,1227.4 718.2,1227.1 719.5,1227.1 720.8,1227.1 722.1,1226.5 723.4,1226.0 724.7,1225.8 726.0,1226.7 727.3,1225.7 728.6,1226.9 729.9,1226.5 731.2,1225.4 732.5,1225.2 733.8,1224.6 735.1,1226.0 736.3,1224.4 737.6,1225.0 738.9,1224.8 740.2,1224.3 741.5,1223.7 742.8,1224.8 744.1,1225.1 745.4,1224.5 746.7,1224.2 748.0,1223.4 749.3,1223.7 750.6,1224.0 751.9,1224.0 753.2,1223.9 754.5,1223.1 755.8,1224.3 757.1,1223.8 758.3,1223.8 759.6,1222.7 760.9,1223.1 762.2,1223.4 763.5,1222.6 764.8,1221.9 766.1,1222.3 767.4,1223.4 768.7,1222.8 770.0,1222.0 771.3,1223.4 772.6,1223.0 773.9,1222.5 775.2,1222.0 776.5,1222.6 777.8,1222.0 779.1,1222.0 780.4,1221.7 781.6,1222.4 782.9,1222.8 784.2,1222.7 785.5,1221.4 786.8,1220.9 788.1,1221.1 789.4,1222.1 790.7,1222.1 792.0,1221.2 793.3,1221.5 794.6,1221.9 795.9,1221.1 797.2,1221.1 798.5,1220.7 799.8,1220.4 801.1,1220.4 802.4,1220.3 803.6,1220.0 804.9,1220.3 806.2,1220.5 807.5,1220.5 808.8,1219.8 810.1,1220.7 811.4,1220.2 812.7,1219.8 814.0,1219.9 815.3,1222.0 816.6,1220.9 817.9,1220.5 819.2,1221.4 820.5,1221.6 821.8,1222.1 823.1,1221.7 824.4,1221.5 825.7,1222.6 826.9,1221.7 828.2,1222.2 829.5,1221.8 830.8,1222.5 832.1,1221.9 833.4,1222.0 834.7,1222.5 836.0,1222.6 837.3,1221.8 838.6,1222.1 839.9,1223.0 841.2,1222.5 842.5,1223.5 843.8,1223.3 845.1,1224.3 846.4,1223.6 847.7,1223.0 849.0,1223.8 850.2,1223.4 851.5,1224.2 852.8,1223.8 854.1,1224.2 855.4,1224.8 856.7,1223.3 858.0,1225.0 859.3,1225.4 860.6,1224.7 861.9,1224.7 863.2,1224.9 864.5,1225.3 865.8,1225.1 867.1,1225.0 868.4,1225.3 869.7,1226.6 871.0,1225.0 872.2,1226.1 873.5,1227.3 874.8,1225.8 876.1,1226.4 877.4,1226.3 878.7,1225.4 880.0,1226.9 881.3,1227.0 882.6,1227.3 883.9,1226.8 885.2,1226.6 886.5,1226.8 887.8,1227.0 889.1,1228.4 890.4,1227.2 891.7,1226.8 893.0,1227.8 894.3,1227.9 895.5,1228.2 896.8,1227.6 898.1,1228.7 899.4,1226.8 900.7,1228.1 902.0,1228.4 903.3,1228.8 904.6,1228.0 905.9,1227.8 907.2,1228.7 908.5,1228.4 909.8,1228.4 911.1,1228.1 912.4,1228.4 913.7,1228.2 915.0,1229.7 916.3,1227.8 917.5,1229.5 918.8,1230.1 920.1,1230.2 921.4,1229.7 922.7,1229.7 924.0,1229.1 925.3,1229.9 926.6,1231.2 927.9,1231.2 929.2,1231.5 930.5,1231.8 931.8,1231.8 933.1,1232.3 934.4,1231.5 935.7,1232.2 937.0,1232.2 938.3,1232.9 939.6,1233.7 940.8,1233.0 942.1,1233.7 943.4,1232.4 944.7,1232.9 946.0,1234.4 947.3,1234.4 948.6,1234.3 949.9,1234.2 951.2,1233.5 952.5,1234.4 953.8,1234.1 955.1,1234.6 956.4,1234.7 957.7,1233.9 959.0,1234.7 960.3,1233.7 961.6,1235.0 962.8,1234.8 964.1,1234.9 965.4,1234.9 966.7,1234.2 968.0,1235.8 969.3,1235.9 970.6,1236.2 971.9,1234.7 973.2,1235.6 974.5,1235.7 975.8,1235.8 977.1,1237.2 978.4,1235.8 979.7,1236.3 981.0,1236.3 982.3,1236.5 983.6,1236.7 984.9,1236.8 986.1,1237.2 987.4,1237.1 988.7,1236.7 990.0,1238.4 991.3,1236.8 992.6,1237.0 993.9,1238.1 995.2,1237.3 996.5,1237.5 997.8,1238.1 999.1,1236.9 1000.4,1237.9 1001.7,1238.2 1003.0,1239.0 1004.3,1237.0 1005.6,1238.3 1006.9,1238.3 1008.1,1238.7 1009.4,1237.5 1010.7,1238.9 1012.0,1238.0 1013.3,1238.4 1014.6,1238.6 1015.9,1238.9 1017.2,1238.7 1018.5,1239.5 1019.8,1240.8 1021.1,1241.1 1022.4,1239.1 1023.7,1241.1 1025.0,1239.2 1026.3,1238.8 1027.6,1241.4 1028.9,1240.0 1030.2,1240.1 1031.4,1241.0 1032.7,1241.9 1034.0,1240.8 1035.3,1239.8 1036.6,1241.0 1037.9,1241.1 1039.2,1241.1 1040.5,1241.3 1041.8,1241.2 1043.1,1240.1 1044.4,1242.1 1045.7,1242.8 1047.0,1241.3 1048.3,1242.3 1049.6,1242.4 1050.9,1243.0 1052.2,1242.4 1053.4,1242.6 1054.7,1242.2 1056.0,1242.8 1057.3,1243.6 1058.6,1242.5 1059.9,1243.0 1061.2,1244.2 1062.5,1243.3 1063.8,1242.7 1065.1,1243.4 1066.4,1243.6 1067.7,1243.2 1069.0,1244.0 1070.3,1244.2 1071.6,1243.5 1072.9,1244.0 1074.2,1244.4 1075.5,1244.0 1076.7,1244.1 1078.0,1243.8 1079.3,1243.8 1080.6,1244.5 1081.9,1244.7 1083.2,1245.3 1084.5,1244.7 1085.8,1245.2 1087.1,1244.5 1088.4,1244.7 1089.7,1244.9 1091.0,1245.4 1092.3,1245.3 1093.6,1244.6 1094.9,1244.6 1096.2,1246.2 1097.5,1247.3 1098.8,1245.6 1100.0,1247.1 1101.3,1246.2 1102.6,1246.0 1103.9,1245.5 1105.2,1246.6 1106.5,1246.7 1107.8,1247.1 1109.1,1246.6 1110.4,1247.7 1111.7,1246.7 1113.0,1246.9 1114.3,1246.4 1115.6,1247.5 1116.9,1247.2 1118.2,1247.4 1119.5,1247.7 1120.8,1248.4 1122.0,1248.2 1123.3,1247.9 1124.6,1247.7 1125.9,1247.5 1127.2,1248.7 1128.5,1248.2 1129.8,1248.1 1131.1,1248.1 1132.4,1248.6 1133.7,1248.8 1135.0,1249.3 1136.3,1249.1 1137.6,1249.4 1138.9,1250.5 1140.2,1250.0 1141.5,1251.1 1142.8,1249.5 1144.1,1249.3 1145.3,1250.3 1146.6,1250.1 1147.9,1250.2 1149.2,1250.6 1150.5,1249.6 1151.8,1250.8 1153.1,1250.6 1154.4,1251.0 1155.7,1249.7 1157.0,1252.2 1158.3,1251.2 1159.6,1252.3 1160.9,1252.0 1162.2,1252.3 1163.5,1251.3 1164.8,1252.6 1166.1,1252.7 1167.3,1252.4 1168.6,1252.9 1169.9,1253.1 1171.2,1251.5 1172.5,1253.1 1173.8,1253.3 1175.1,1252.0 1176.4,1253.0 1177.7,1252.4 1179.0,1254.4" stroke="#d6483e" stroke-width="1.3" fill="none" stroke-linejoin="round"/>
<path d="M156.5,1269.1 157.1,1269.1 157.8,1269.1 158.4,1269.1 159.1,1269.1 159.7,1269.1 160.4,1269.1 161.0,1269.1 161.7,1269.1 162.3,1269.1 163.0,1269.1 163.6,1269.1 164.3,1269.1 164.9,1269.1 165.6,1269.1 166.2,1269.1 166.9,1269.1 167.5,1269.1 168.1,1269.1 168.8,1269.1 169.4,1269.1 170.1,1269.1 170.7,1269.1 171.4,1269.1 172.0,1269.1 172.7,1269.1 173.3,1269.1 174.0,1269.1 174.6,1269.1 175.3,1269.1 175.9,1269.1 176.6,1269.1 177.2,1269.1 177.9,1269.1 178.5,1269.1 179.2,1269.1 179.8,1269.1 180.4,1269.2 181.1,1266.3 181.7,1265.5 182.4,1252.9 183.0,1239.9 183.7,1229.2 184.3,1216.6 185.0,1205.3 185.6,1195.7 186.3,1180.8 186.9,1171.9 187.6,1154.3 188.2,1147.8 188.9,1131.5 189.5,1119.6 190.2,1103.7 190.8,1098.0 191.4,1083.8 192.1,1077.3 192.7,1065.2 193.4,1063.8 194.0,1063.0 194.7,1070.2 195.3,1055.5 196.0,1057.2 196.6,1045.8 197.3,1062.8 197.9,1053.5 198.6,1053.0 199.2,1054.0 199.9,1053.8 200.5,1053.0 201.2,1059.5 201.8,1062.6 202.4,1056.6 203.1,1047.1 203.7,1038.3 204.4,1042.6 205.0,1041.3 205.7,1043.2 206.3,1043.4 207.0,1047.5 207.6,1041.6 208.3,1032.0 208.9,1050.5 209.6,1053.2 210.2,1028.6 210.9,1043.6 211.5,1036.4 212.2,1036.8 212.8,1054.5 213.4,1022.9 214.1,1027.3 214.7,1041.8 215.4,1036.4 216.0,1042.0 216.7,1051.1 217.3,1043.9 218.0,1039.3 218.6,1032.4 219.3,1036.0 219.9,1041.8 220.6,1029.7 221.2,1049.2 221.9,1034.7 222.5,1031.6 223.2,1044.5 223.8,1058.3 224.5,1050.0 225.1,1039.2 225.7,1036.4 226.4,1026.7 227.0,1050.4 227.7,1040.9 228.3,1034.7 229.0,1042.2 229.6,1061.8 230.3,1032.8 230.9,1019.0 231.6,1030.7 232.2,1048.7 232.9,1043.8 233.5,1037.8 234.2,1018.3 234.8,1033.8 235.5,1038.5 236.1,1024.7 236.7,1040.2 237.4,1021.6 238.0,1045.7 238.7,1043.6 239.3,1032.1 240.0,1025.3 240.6,1032.6 241.3,1035.9 241.9,1056.1 242.6,1045.4 243.2,1044.3 243.9,1043.5 244.5,1032.6 245.2,1041.4 245.8,1030.5 246.5,1037.2 247.1,1041.1 247.7,1036.7 248.4,1033.6 249.0,1029.3 249.7,1042.2 250.3,1039.7 251.0,1050.6 251.6,1021.7 252.3,1023.0 252.9,1038.8 253.6,1041.7 254.2,1049.0 254.9,1035.1 255.5,1034.7 256.2,1015.2 256.8,1034.1 257.5,1044.1 258.1,1058.7 258.7,1022.4 259.4,1034.4 260.0,1052.1 260.7,1034.4 261.3,1052.0 262.0,1013.6 262.6,1024.9 263.3,1030.3 263.9,1037.7 264.6,1057.2 265.2,1037.2 265.9,1051.3 266.5,1029.9 267.2,1057.1 267.8,1044.8 268.5,1023.5 269.1,1019.2 269.8,1047.5 270.4,1051.0 271.0,1026.7 271.7,1026.9 272.3,1045.4 273.0,1042.4 273.6,1042.4 274.3,1047.4 274.9,1042.2 275.6,1022.6 276.2,1028.3 276.9,1014.4 277.5,1036.1 278.2,1036.5 278.8,1045.1 279.5,1036.3 280.1,1048.4 280.8,1053.1 281.4,1027.9 282.0,1020.2 282.7,1026.3 283.3,1021.2 284.0,1032.2 284.6,1042.2 285.3,1033.8 285.9,1038.3 286.6,1045.8 287.2,1051.6 287.9,1049.3 288.5,1034.0 289.2,1032.2 289.8,1038.5 290.5,1018.7 291.1,1031.5 291.8,1027.1 292.4,1020.4 293.0,1041.4 293.7,1053.2 294.3,1024.7 295.0,1039.6 295.6,1018.6 296.3,1028.6 296.9,1021.5 297.6,1023.9 298.2,1053.5 298.9,1024.0 299.5,1038.5 300.2,1039.2 300.8,1035.7 301.5,1022.9 302.1,1021.5 302.8,1020.0 303.4,1048.0 304.1,1036.6 304.7,1054.2 305.3,1031.2 306.0,1023.6 306.6,1037.9 307.3,1027.0 307.9,1027.0 308.6,1018.6 309.2,1037.9 309.9,1037.9 310.5,1037.0 311.2,1009.9 311.8,1016.7 312.5,1029.3 313.1,1025.3 313.8,1026.2 314.4,1025.0 315.1,1029.1 315.7,1030.1 316.3,1039.8 317.0,1032.9 317.6,1007.9 318.3,1019.6 318.9,1024.4 319.6,1027.1 320.2,1023.8 320.9,1020.4 321.5,1030.9 322.2,1021.5 322.8,1020.7 323.5,1031.2 324.1,1031.4 324.8,1033.5 325.4,1034.1 326.1,1009.0 326.7,1046.9 327.3,1024.8 328.0,1028.4 328.6,1028.3 329.3,1020.3 329.9,1008.8 330.6,1020.2 331.2,1022.4 331.9,1027.4 332.5,1021.9 333.2,1010.2 333.8,1024.4 334.5,1033.0 335.1,1034.3 335.8,1033.4 336.4,1035.0 337.1,1029.6 337.7,1038.4 338.3,1046.5 339.0,1044.6 339.6,1057.5 340.3,1055.1 340.9,1058.5 341.6,1072.4 342.2,1076.1 342.9,1077.1 343.5,1072.2 344.2,1073.6 344.8,1087.5 345.5,1080.8 346.1,1090.0 346.8,1093.1 347.4,1096.9 348.1,1099.0 348.7,1108.4 349.4,1107.9 350.0,1112.0 350.6,1107.8 351.3,1103.1 351.9,1104.4 352.6,1117.4 353.2,1125.2 353.9,1121.8 354.5,1126.0 355.2,1115.9 355.8,1123.8 356.5,1131.2 357.1,1126.4 357.8,1130.1 358.4,1141.0 359.1,1138.6 359.7,1139.4 360.4,1140.4 361.0,1142.0 361.6,1146.0 362.3,1145.9 362.9,1150.7 363.6,1153.6 364.2,1145.5 364.9,1151.8 365.5,1153.2 366.2,1162.9 366.8,1158.9 367.5,1156.6 368.1,1166.6 368.8,1158.8 369.4,1166.4 370.1,1164.9 370.7,1168.7 371.4,1169.0 372.0,1166.8 372.6,1174.7 373.3,1168.7 373.9,1179.5 374.6,1181.7 375.2,1177.0 375.9,1185.0 376.5,1183.4 377.2,1179.6 377.8,1179.5 378.5,1192.0 379.1,1184.4 379.8,1180.3 380.4,1184.0 381.1,1190.6 381.7,1193.0 382.4,1193.0 383.0,1197.3 383.6,1195.1 384.3,1195.9 384.9,1196.8 385.6,1193.0 386.2,1199.4 386.9,1205.0 387.5,1196.8 388.2,1205.8 388.8,1204.6 389.5,1204.5 390.1,1206.4 390.8,1209.9 391.4,1208.2 392.1,1200.5 392.7,1211.7 393.4,1211.1 394.0,1207.7 394.7,1210.2 395.3,1210.8 395.9,1211.2 396.6,1221.9 397.2,1218.7 397.9,1215.8 398.5,1215.2 399.2,1213.1 399.8,1216.7 400.5,1219.9 401.1,1219.6 401.8,1221.2 402.4,1220.3 403.1,1219.5 403.7,1223.7 404.4,1226.0 405.0,1226.8 405.7,1220.5 406.3,1220.2 406.9,1221.5 407.6,1222.3 408.2,1222.8 408.9,1226.0 409.5,1224.1 410.2,1230.2 410.8,1227.7 411.5,1229.8 412.1,1225.2 412.8,1229.9 413.4,1228.7 414.1,1227.4 414.7,1224.8 415.4,1223.5 416.0,1215.9 416.7,1203.4 417.3,1191.5 417.9,1171.1 418.6,1156.8 419.2,1148.8 419.9,1146.6 420.5,1132.5 421.2,1129.3 421.8,1123.7 422.5,1106.6 423.1,1104.3 423.8,1089.9 424.4,1088.7 425.1,1083.5 425.7,1073.3 426.4,1058.1 427.0,1057.4 427.7,1046.7 428.3,1038.0 429.0,1040.6 429.6,1030.1 430.2,1028.7 430.9,1027.9 431.5,1011.0 432.2,1007.2 432.8,1005.7 433.5,1010.8 434.1,1016.8 434.8,1001.4 435.4,1004.3 436.1,1013.3 436.7,1002.8 437.4,1011.3 438.0,1001.4 438.7,999.7 439.3,997.7 440.0,998.0 440.6,997.7 441.2,1005.7 441.9,1000.1 442.5,1000.4 443.2,998.0 443.8,993.9 444.5,990.9 445.1,983.2 445.8,1009.8 446.4,990.5 447.1,994.1 447.7,975.9 448.4,983.7 449.0,1000.8 449.7,984.2 450.3,989.3 451.0,976.4 451.6,990.1 452.2,981.2 452.9,979.8 453.5,977.8 454.2,980.0 454.8,988.1 455.5,968.5 456.1,962.5 456.8,969.3 457.4,975.3 458.1,963.5 458.7,958.5 459.4,962.7 460.0,959.4 460.7,945.5 461.3,964.7 462.0,958.1 462.6,967.7 463.2,955.4 463.9,953.9 464.5,953.9 465.2,949.6 465.8,925.7 466.5,941.4 467.1,938.7 467.8,914.3 468.4,933.7 469.1,948.4 469.7,924.4 470.4,936.3 471.0,906.2 471.7,935.7 472.3,926.1 473.0,936.0 473.6,913.8 474.3,925.1 474.9,911.3 475.5,911.9 476.2,911.8 476.8,888.0 477.5,884.6 478.1,893.0 478.8,903.2 479.4,902.5 480.1,880.0 480.7,849.3 481.4,888.4 482.0,892.3 482.7,889.9 483.3,895.1 484.0,892.2 484.6,878.7 485.3,850.4 485.9,872.9 486.5,880.2 487.2,897.2 487.8,865.7 488.5,868.5 489.1,887.1 489.8,883.6 490.4,865.0 491.1,846.3 491.7,851.4 492.4,858.1 493.0,866.5 493.7,855.4 494.3,860.6 495.0,823.8 495.6,878.6 496.3,865.5 496.9,837.7 497.5,863.0 498.2,834.4 498.8,858.6 499.5,830.2 500.1,863.3 500.8,879.9 501.4,872.6 502.1,818.8 502.7,845.0 503.4,845.5 504.0,839.5 504.7,845.7 505.3,838.0 506.0,859.5 506.6,858.6 507.3,838.1 507.9,860.4 508.5,876.8 509.2,858.0 509.8,863.2 510.5,843.4 511.1,865.8 511.8,871.4 512.4,858.9 513.1,826.9 513.7,853.8 514.4,850.1 515.0,852.5 515.7,847.5 516.3,812.6 517.0,859.7 517.6,881.1 518.3,830.4 518.9,854.0 519.6,859.8 520.2,816.1 520.8,858.0 521.5,822.4 522.1,839.4 522.8,873.9 523.4,848.4 524.1,844.5 524.7,859.7 525.4,896.7 526.0,864.2 526.7,862.0 527.3,878.1 528.0,828.3 528.6,864.1 529.3,867.1 529.9,865.9 530.6,874.6 531.2,874.7 531.8,860.0 532.5,856.5 533.1,870.8 533.8,863.9 534.4,886.6 535.1,853.9 535.7,876.0 536.4,859.6 537.0,879.2 537.7,872.7 538.3,822.9 539.0,885.3 539.6,825.4 540.3,865.5 540.9,866.3 541.6,878.0 542.2,837.9 542.8,841.8 543.5,860.8 544.1,890.0 544.8,875.3 545.4,856.1 546.1,875.9 546.7,887.9 547.4,888.2 548.0,881.2 548.7,867.8 549.3,879.6 550.0,868.2 550.6,829.2 551.3,838.0 551.9,887.2 552.6,863.3 553.2,868.0 553.9,872.1 554.5,851.6 555.1,875.9 555.8,876.0 556.4,877.0 557.1,872.4 557.7,848.3 558.4,857.5 559.0,894.8 559.7,879.2 560.3,885.7 561.0,857.5 561.6,868.1 562.3,856.6 562.9,873.6 563.6,906.3 564.2,864.9 564.9,869.0 565.5,864.3 566.1,896.4 566.8,872.2 567.4,889.3 568.1,892.8 568.7,884.3 569.4,889.9 570.0,904.9 570.7,912.5 571.3,923.7 572.0,922.6 572.6,921.7 573.3,936.2 573.9,955.9 574.6,956.8 575.2,952.7 575.9,948.8 576.5,953.8 577.1,960.3 577.8,963.5 578.4,972.0 579.1,971.4 579.7,973.3 580.4,977.7 581.0,976.3 581.7,980.7 582.3,979.9 583.0,977.5 583.6,983.0 584.3,987.4 584.9,993.3 585.6,1001.8 586.2,998.7 586.9,998.8 587.5,1008.6 588.1,1001.8 588.8,1011.6 589.4,1011.6 590.1,1017.6 590.7,1024.5 591.4,1013.4 592.0,1030.1 592.7,1024.3 593.3,1033.5 594.0,1033.0 594.6,1040.5 595.3,1041.9 595.9,1039.3 596.6,1038.0 597.2,1052.7 597.9,1052.1 598.5,1051.2 599.2,1060.7 599.8,1058.2 600.4,1067.3 601.1,1064.6 601.7,1068.3 602.4,1067.5 603.0,1073.2 603.7,1081.8 604.3,1076.6 605.0,1086.0 605.6,1080.9 606.3,1080.2 606.9,1086.1 607.6,1093.0 608.2,1088.4 608.9,1094.7 609.5,1102.6 610.2,1101.4 610.8,1096.7 611.4,1105.8 612.1,1106.4 612.7,1110.1 613.4,1117.2 614.0,1114.5 614.7,1113.0 615.3,1115.5 616.0,1118.8 616.6,1128.2 617.3,1117.2 617.9,1121.0 618.6,1121.7 619.2,1122.6 619.9,1131.1 620.5,1133.5 621.2,1131.9 621.8,1128.7 622.4,1143.2 623.1,1139.6 623.7,1143.3 624.4,1140.4 625.0,1139.0 625.7,1147.3 626.3,1152.6 627.0,1149.1 627.6,1151.6 628.3,1157.4 628.9,1149.8 629.6,1156.1 630.2,1152.9 630.9,1161.3 631.5,1153.9 632.2,1164.2 632.8,1156.5 633.4,1167.9 634.1,1157.8 634.7,1165.2 635.4,1170.6 636.0,1167.2 636.7,1166.4 637.3,1172.2 638.0,1171.7 638.6,1170.3 639.3,1173.0 639.9,1181.4 640.6,1176.3 641.2,1174.6 641.9,1176.3 642.5,1175.1 643.2,1182.1 643.8,1173.7 644.5,1180.3 645.1,1183.6 645.7,1182.6 646.4,1184.7 647.0,1189.1 647.7,1193.1 648.3,1189.4 649.0,1193.0 649.6,1201.8 650.3,1195.3 650.9,1186.4 651.6,1183.5 652.2,1178.9 652.9,1173.8 653.5,1171.2 654.2,1163.2 654.8,1165.2 655.5,1161.7 656.1,1156.5 656.7,1152.2 657.4,1148.9 658.0,1143.5 658.7,1146.9 659.3,1138.3 660.0,1137.6 660.6,1134.6 661.3,1122.9 661.9,1105.9 662.6,1102.3 663.2,1102.5 663.9,1105.2 664.5,1094.2 665.2,1089.3 665.8,1081.2 666.5,1066.5 667.1,1068.5 667.7,1065.7 668.4,1066.9 669.0,1063.4 669.7,1053.9 670.3,1050.4 671.0,1031.4 671.6,1040.6 672.3,1037.0 672.9,1022.7 673.6,1024.0 674.2,1026.9 674.9,1007.9 675.5,1012.7 676.2,1014.3 676.8,999.9 677.5,994.4 678.1,994.9 678.8,986.3 679.4,983.2 680.0,991.9 680.7,997.4 681.3,996.8 682.0,980.5 682.6,969.1 683.3,968.3 683.9,963.3 684.6,957.8 685.2,968.5 685.9,958.8 686.5,975.8 687.2,958.0 687.8,958.6 688.5,960.6 689.1,961.6 689.8,965.1 690.4,953.9 691.0,943.3 691.7,954.6 692.3,945.8 693.0,953.8 693.6,944.7 694.3,953.5 694.9,940.4 695.6,944.6 696.2,939.4 696.9,946.5 697.5,950.8 698.2,942.7 698.8,930.0 699.5,924.1 700.1,940.7 700.8,929.3 701.4,928.8 702.0,931.6 702.7,950.5 703.3,930.6 704.0,943.5 704.6,919.8 705.3,923.1 705.9,924.1 706.6,956.3 707.2,922.9 707.9,921.6 708.5,945.3 709.2,917.6 709.8,928.5 710.5,931.6 711.1,938.4 711.8,942.4 712.4,934.5 713.0,898.6 713.7,925.7 714.3,925.5 715.0,936.7 715.6,936.1 716.3,935.1 716.9,939.4 717.6,915.8 718.2,930.9 718.9,915.5 719.5,942.3 720.2,914.3 720.8,926.9 721.5,917.5 722.1,927.6 722.8,937.9 723.4,909.7 724.1,931.5 724.7,927.4 725.3,937.0 726.0,922.2 726.6,929.9 727.3,920.6 727.9,919.5 728.6,933.2 729.2,942.6 729.9,917.6 730.5,910.8 731.2,913.6 731.8,938.1 732.5,914.3 733.1,917.0 733.8,918.1 734.4,915.9 735.1,896.5 735.7,918.3 736.3,908.5 737.0,927.6 737.6,940.0 738.3,921.7 738.9,917.3 739.6,945.3 740.2,929.7 740.9,912.8 741.5,923.1 742.2,920.0 742.8,938.7 743.5,909.5 744.1,898.2 744.8,925.1 745.4,932.6 746.1,938.6 746.7,911.0 747.3,922.0 748.0,934.5 748.6,907.3 749.3,913.7 749.9,916.2 750.6,948.8 751.2,926.4 751.9,916.6 752.5,942.2 753.2,899.4 753.8,906.3 754.5,912.0 755.1,936.4 755.8,936.5 756.4,914.1 757.1,913.6 757.7,910.6 758.3,911.3 759.0,929.4 759.6,934.0 760.3,954.2 760.9,918.0 761.6,897.8 762.2,935.8 762.9,936.2 763.5,920.9 764.2,925.0 764.8,949.4 765.5,940.6 766.1,946.1 766.8,903.1 767.4,941.4 768.1,919.8 768.7,905.3 769.4,905.9 770.0,912.6 770.6,910.1 771.3,950.2 771.9,938.1 772.6,943.7 773.2,937.8 773.9,902.4 774.5,957.7 775.2,926.7 775.8,952.1 776.5,916.3 777.1,917.1 777.8,942.7 778.4,906.9 779.1,935.1 779.7,918.1 780.4,932.3 781.0,944.7 781.6,942.5 782.3,939.1 782.9,929.0 783.6,936.2 784.2,906.3 784.9,941.2 785.5,945.3 786.2,949.1 786.8,950.2 787.5,959.8 788.1,953.6 788.8,927.2 789.4,939.4 790.1,942.9 790.7,935.8 791.4,925.9 792.0,932.6 792.6,930.6 793.3,949.7 793.9,945.8 794.6,953.4 795.2,944.0 795.9,954.5 796.5,948.4 797.2,945.9 797.8,946.7 798.5,947.7 799.1,951.2 799.8,925.8 800.4,949.6 801.1,959.4 801.7,942.4 802.4,961.0 803.0,961.0 803.6,944.8 804.3,970.1 804.9,978.9 805.6,944.5 806.2,935.9 806.9,976.8 807.5,967.8 808.2,948.8 808.8,987.7 809.5,971.9 810.1,975.4 810.8,970.6 811.4,985.6 812.1,975.4 812.7,986.8 813.4,990.0 814.0,999.1 814.7,1012.8 815.3,1006.2 815.9,1016.6 816.6,1013.4 817.2,1022.1 817.9,1023.2 818.5,1026.7 819.2,1025.5 819.8,1029.6 820.5,1043.0 821.1,1040.8 821.8,1036.0 822.4,1044.0 823.1,1053.3 823.7,1053.1 824.4,1057.2 825.0,1053.5 825.7,1061.1 826.3,1062.3 826.9,1055.8 827.6,1076.6 828.2,1077.2 828.9,1083.3 829.5,1085.0 830.2,1075.1 830.8,1080.4 831.5,1076.2 832.1,1096.6 832.8,1093.6 833.4,1084.5 834.1,1089.1 834.7,1092.2 835.4,1094.5 836.0,1100.9 836.7,1103.3 837.3,1105.3 837.9,1103.6 838.6,1110.6 839.2,1110.5 839.9,1107.3 840.5,1121.8 841.2,1122.2 841.8,1118.2 842.5,1124.3 843.1,1125.3 843.8,1116.3 844.4,1125.7 845.1,1131.1 845.7,1125.6 846.4,1121.7 847.0,1138.8 847.7,1138.3 848.3,1136.2 849.0,1141.1 849.6,1129.9 850.2,1138.9 850.9,1144.5 851.5,1142.1 852.2,1149.3 852.8,1150.0 853.5,1148.3 854.1,1140.3 854.8,1161.7 855.4,1151.4 856.1,1148.8 856.7,1153.0 857.4,1149.3 858.0,1157.2 858.7,1160.0 859.3,1162.6 860.0,1167.2 860.6,1158.0 861.2,1171.5 861.9,1168.5 862.5,1171.7 863.2,1174.2 863.8,1181.7 864.5,1175.5 865.1,1174.8 865.8,1176.2 866.4,1174.8 867.1,1180.4 867.7,1183.5 868.4,1180.7 869.0,1180.3 869.7,1187.8 870.3,1191.4 871.0,1190.5 871.6,1183.2 872.2,1184.5 872.9,1193.2 873.5,1190.3 874.2,1188.5 874.8,1187.7 875.5,1196.7 876.1,1196.1 876.8,1190.8 877.4,1188.5 878.1,1192.5 878.7,1204.0 879.4,1199.0 880.0,1203.0 880.7,1203.1 881.3,1206.6 882.0,1202.0 882.6,1196.4 883.2,1185.7 883.9,1186.0 884.5,1183.2 885.2,1180.9 885.8,1180.0 886.5,1174.2 887.1,1164.9 887.8,1162.6 888.4,1154.6 889.1,1157.0 889.7,1154.2 890.4,1148.8 891.0,1151.4 891.7,1161.7 892.3,1152.5 893.0,1162.9 893.6,1163.2 894.3,1170.6 894.9,1170.1 895.5,1174.2 896.2,1167.9 896.8,1172.0 897.5,1178.0 898.1,1181.5 898.8,1176.1 899.4,1178.5 900.1,1181.6 900.7,1176.7 901.4,1180.4 902.0,1180.3 902.7,1183.7 903.3,1184.6 904.0,1185.2 904.6,1190.0 905.3,1183.5 905.9,1185.3 906.5,1193.3 907.2,1188.2 907.8,1185.7 908.5,1189.7 909.1,1187.2 909.8,1193.2 910.4,1193.3 911.1,1198.4 911.7,1198.1 912.4,1201.9 913.0,1199.9 913.7,1197.3 914.3,1197.4 915.0,1196.3 915.6,1200.5 916.3,1204.9 916.9,1201.5 917.5,1204.3 918.2,1199.4 918.8,1199.9 919.5,1204.0 920.1,1211.3 920.8,1210.5 921.4,1209.3 922.1,1213.0 922.7,1210.4 923.4,1210.9 924.0,1211.5 924.7,1214.3 925.3,1218.5 926.0,1219.4 926.6,1218.4 927.3,1214.9 927.9,1215.0 928.5,1217.4 929.2,1219.9 929.8,1219.8 930.5,1220.1 931.1,1219.6 931.8,1221.5 932.4,1228.8 933.1,1222.8 933.7,1225.1 934.4,1228.0 935.0,1226.2 935.7,1227.6 936.3,1229.2 937.0,1233.9 937.6,1230.2 938.3,1229.9 938.9,1231.7 939.6,1235.5 940.2,1231.1 940.8,1230.9 941.5,1232.4 942.1,1232.2 942.8,1234.1 943.4,1235.0 944.1,1233.0 944.7,1235.0 945.4,1234.3 946.0,1230.7 946.7,1233.7 947.3,1234.8 948.0,1237.8 948.6,1234.9 949.3,1233.9 949.9,1236.3 950.6,1235.6 951.2,1238.7 951.8,1234.5 952.5,1236.2 953.1,1234.4 953.8,1233.6 954.4,1235.7 955.1,1234.2 955.7,1235.2 956.4,1235.8 957.0,1235.9 957.7,1236.6 958.3,1234.3 959.0,1234.9 959.6,1237.0 960.3,1235.1 960.9,1236.9 961.6,1237.8 962.2,1234.9 962.8,1237.7 963.5,1235.1 964.1,1236.2 964.8,1235.6 965.4,1236.1 966.1,1235.4 966.7,1236.4 967.4,1236.2 968.0,1236.7 968.7,1235.8 969.3,1237.5 970.0,1236.1 970.6,1235.6 971.3,1237.4 971.9,1236.9 972.6,1238.1 973.2,1237.9 973.9,1237.4 974.5,1238.1 975.1,1238.8 975.8,1237.9 976.4,1237.8 977.1,1237.7 977.7,1237.4 978.4,1240.2 979.0,1236.8 979.7,1238.6 980.3,1239.3 981.0,1239.0 981.6,1238.2 982.3,1237.8 982.9,1239.2 983.6,1238.7 984.2,1240.7 984.9,1238.9 985.5,1239.2 986.1,1239.7 986.8,1238.3 987.4,1237.4 988.1,1238.3 988.7,1240.4 989.4,1237.9 990.0,1240.1 990.7,1239.8 991.3,1240.5 992.0,1239.4 992.6,1239.4 993.3,1239.9 993.9,1240.4 994.6,1240.4 995.2,1240.8 995.9,1239.3 996.5,1241.1 997.1,1240.7 997.8,1240.9 998.4,1241.6 999.1,1241.1 999.7,1242.5 1000.4,1240.5 1001.0,1240.4 1001.7,1241.3 1002.3,1239.3 1003.0,1242.0 1003.6,1240.5 1004.3,1240.7 1004.9,1241.8 1005.6,1241.5 1006.2,1240.3 1006.9,1241.3 1007.5,1241.1 1008.1,1239.9 1008.8,1241.3 1009.4,1243.4 1010.1,1242.4 1010.7,1240.7 1011.4,1241.8 1012.0,1242.9 1012.7,1244.0 1013.3,1241.5 1014.0,1240.2 1014.6,1243.3 1015.3,1244.3 1015.9,1241.5 1016.6,1242.6 1017.2,1242.4 1017.9,1242.5 1018.5,1243.2 1019.2,1241.8 1019.8,1241.3 1020.4,1241.9 1021.1,1243.0 1021.7,1241.3 1022.4,1242.6 1023.0,1241.9 1023.7,1243.6 1024.3,1241.9 1025.0,1241.8 1025.6,1241.3 1026.3,1242.7 1026.9,1242.3 1027.6,1243.5 1028.2,1241.9 1028.9,1242.1 1029.5,1241.8 1030.2,1243.4 1030.8,1244.4 1031.4,1243.2 1032.1,1243.4 1032.7,1244.0 1033.4,1242.6 1034.0,1242.3 1034.7,1242.9 1035.3,1242.2 1036.0,1243.0 1036.6,1244.5 1037.3,1244.2 1037.9,1244.0 1038.6,1242.9 1039.2,1242.7 1039.9,1243.6 1040.5,1242.6 1041.2,1244.7 1041.8,1244.0 1042.4,1242.3 1043.1,1243.5 1043.7,1242.8 1044.4,1246.1 1045.0,1245.9 1045.7,1245.1 1046.3,1243.1 1047.0,1242.4 1047.6,1244.9 1048.3,1245.4 1048.9,1245.5 1049.6,1245.4 1050.2,1243.8 1050.9,1244.8 1051.5,1242.5 1052.2,1243.8 1052.8,1245.4 1053.4,1244.4 1054.1,1244.9 1054.7,1243.9 1055.4,1243.8 1056.0,1245.2 1056.7,1243.9 1057.3,1244.3 1058.0,1245.1 1058.6,1244.8 1059.3,1244.3 1059.9,1245.5 1060.6,1245.9 1061.2,1243.8 1061.9,1245.3 1062.5,1246.0 1063.2,1244.9 1063.8,1247.0 1064.5,1245.4 1065.1,1247.0 1065.7,1246.0 1066.4,1247.5 1067.0,1246.4 1067.7,1244.7 1068.3,1245.9 1069.0,1247.1 1069.6,1243.9 1070.3,1246.5 1070.9,1244.3 1071.6,1246.5 1072.2,1247.6 1072.9,1244.0 1073.5,1246.5 1074.2,1245.3 1074.8,1244.9 1075.5,1247.6 1076.1,1246.2 1076.7,1246.9 1077.4,1245.7 1078.0,1246.4 1078.7,1247.8 1079.3,1246.4 1080.0,1245.7 1080.6,1246.9 1081.3,1246.0 1081.9,1247.2 1082.6,1246.7 1083.2,1246.3 1083.9,1246.6 1084.5,1245.4 1085.2,1245.8 1085.8,1246.0 1086.5,1246.2 1087.1,1246.8 1087.7,1248.3 1088.4,1245.9 1089.0,1245.2 1089.7,1246.9 1090.3,1247.5 1091.0,1247.3 1091.6,1246.0 1092.3,1247.0 1092.9,1248.4 1093.6,1247.6 1094.2,1248.3 1094.9,1247.7 1095.5,1248.5 1096.2,1248.5 1096.8,1246.0 1097.5,1246.6 1098.1,1249.5 1098.8,1248.8 1099.4,1248.3 1100.0,1248.3 1100.7,1249.4 1101.3,1247.0 1102.0,1249.7 1102.6,1247.3 1103.3,1247.3 1103.9,1248.5 1104.6,1248.9 1105.2,1248.2 1105.9,1248.1 1106.5,1250.6 1107.2,1249.7 1107.8,1247.8 1108.5,1248.6 1109.1,1248.9 1109.8,1249.6 1110.4,1249.3 1111.0,1249.4 1111.7,1246.2 1112.3,1250.1 1113.0,1247.1 1113.6,1248.3 1114.3,1248.6 1114.9,1248.7 1115.6,1249.3 1116.2,1247.2 1116.9,1248.5 1117.5,1249.1 1118.2,1249.2 1118.8,1248.9 1119.5,1250.4 1120.1,1249.6 1120.8,1250.0 1121.4,1248.7 1122.0,1248.7 1122.7,1251.4 1123.3,1249.7 1124.0,1248.4 1124.6,1250.9 1125.3,1250.9 1125.9,1248.6 1126.6,1249.8 1127.2,1250.2 1127.9,1251.1 1128.5,1249.6 1129.2,1250.5 1129.8,1249.7 1130.5,1249.5 1131.1,1249.2 1131.8,1250.4 1132.4,1250.6 1133.0,1250.1 1133.7,1250.3 1134.3,1250.0 1135.0,1250.8 1135.6,1250.6 1136.3,1251.0 1136.9,1251.0 1137.6,1250.3 1138.2,1249.2 1138.9,1251.1 1139.5,1249.9 1140.2,1250.2 1140.8,1250.5 1141.5,1250.0 1142.1,1251.4 1142.8,1250.2 1143.4,1250.5 1144.1,1253.4 1144.7,1250.6 1145.3,1250.3 1146.0,1248.9 1146.6,1252.2 1147.3,1251.0 1147.9,1250.8 1148.6,1252.3 1149.2,1250.0 1149.9,1250.8 1150.5,1252.2 1151.2,1252.7 1151.8,1251.9 1152.5,1249.0 1153.1,1249.2 1153.8,1254.1 1154.4,1253.6 1155.1,1250.9 1155.7,1251.8 1156.3,1252.4 1157.0,1251.1 1157.6,1251.7 1158.3,1251.6 1158.9,1251.6 1159.6,1253.1 1160.2,1250.6 1160.9,1252.6 1161.5,1250.9 1162.2,1251.4 1162.8,1252.1 1163.5,1252.1 1164.1,1252.3 1164.8,1254.3 1165.4,1252.7 1166.1,1252.0 1166.7,1254.2 1167.3,1254.1 1168.0,1251.4 1168.6,1251.7 1169.3,1254.3 1169.9,1252.2 1170.6,1252.8 1171.2,1251.7 1171.9,1253.2 1172.5,1253.1 1173.2,1253.7 1173.8,1252.8 1174.5,1253.1 1175.1,1253.8 1175.8,1253.5 1176.4,1254.0 1177.1,1252.5 1177.7,1254.3 1178.3,1255.0 1179.0,1254.4" stroke="#72be58" stroke-width="1.3" fill="none" stroke-linejoin="round"/>
<path d="M103 746.2H1234" stroke="#222" stroke-width="2"/>
<path d="M103.5 745.2V1323.5H1233.5V745.2" stroke="#666" stroke-width="1" fill="none"/>
<rect x="103" y="1399.3" width="1131" height="578.7" fill="#fff" stroke="none"/>
<path d="M156.8 1936.47H1180.42M156.8 1928.55H1180.42M156.8 1920.64H1180.42M156.8 1912.72H1180.42M156.8 1896.88H1180.42M156.8 1888.96H1180.42M156.8 1881.05H1180.42M156.8 1873.13H1180.42M156.8 1857.29H1180.42M156.8 1849.37H1180.42M156.8 1841.46H1180.42M156.8 1833.54H1180.42M156.8 1817.7H1180.42M156.8 1809.78H1180.42M156.8 1801.87H1180.42M156.8 1793.95H1180.42M156.8 1778.11H1180.42M156.8 1770.19H1180.42M156.8 1762.28H1180.42M156.8 1754.36H1180.42M156.8 1738.52H1180.42M156.8 1730.6H1180.42M156.8 1722.69H1180.42M156.8 1714.77H1180.42M156.8 1698.93H1180.42M156.8 1691.01H1180.42M156.8 1683.1H1180.42M156.8 1675.18H1180.42M156.8 1659.34H1180.42M156.8 1651.42H1180.42M156.8 1643.51H1180.42M156.8 1635.59H1180.42M156.8 1619.75H1180.42M156.8 1611.83H1180.42M156.8 1603.92H1180.42M156.8 1596H1180.42M156.8 1580.16H1180.42M156.8 1572.24H1180.42M156.8 1564.33H1180.42M156.8 1556.41H1180.42M156.8 1540.57H1180.42M156.8 1532.65H1180.42M156.8 1524.74H1180.42M156.8 1516.82H1180.42M156.8 1500.98H1180.42M156.8 1493.06H1180.42M156.8 1485.15H1180.42M156.8 1477.23H1180.42M156.8 1461.39H1180.42M156.8 1453.47H1180.42M156.8 1445.56H1180.42M161.89 1442.7V1944.4M168.26 1442.7V1944.4M174.63 1442.7V1944.4M181 1442.7V1944.4M193.73 1442.7V1944.4M200.1 1442.7V1944.4M206.47 1442.7V1944.4M212.83 1442.7V1944.4M225.57 1442.7V1944.4M231.94 1442.7V1944.4M238.3 1442.7V1944.4M244.67 1442.7V1944.4M257.41 1442.7V1944.4M263.77 1442.7V1944.4M270.14 1442.7V1944.4M276.51 1442.7V1944.4M289.24 1442.7V1944.4M295.61 1442.7V1944.4M301.98 1442.7V1944.4M308.35 1442.7V1944.4M321.08 1442.7V1944.4M327.45 1442.7V1944.4M333.82 1442.7V1944.4M340.18 1442.7V1944.4M352.92 1442.7V1944.4M359.29 1442.7V1944.4M365.65 1442.7V1944.4M372.02 1442.7V1944.4M384.76 1442.7V1944.4M391.12 1442.7V1944.4M397.49 1442.7V1944.4M403.86 1442.7V1944.4M416.59 1442.7V1944.4M422.96 1442.7V1944.4M429.33 1442.7V1944.4M435.7 1442.7V1944.4M448.43 1442.7V1944.4M454.8 1442.7V1944.4M461.17 1442.7V1944.4M467.53 1442.7V1944.4M480.27 1442.7V1944.4M486.64 1442.7V1944.4M493 1442.7V1944.4M499.37 1442.7V1944.4M512.11 1442.7V1944.4M518.47 1442.7V1944.4M524.84 1442.7V1944.4M531.21 1442.7V1944.4M543.94 1442.7V1944.4M550.31 1442.7V1944.4M556.68 1442.7V1944.4M563.05 1442.7V1944.4M575.78 1442.7V1944.4M582.15 1442.7V1944.4M588.52 1442.7V1944.4M594.88 1442.7V1944.4M607.62 1442.7V1944.4M613.99 1442.7V1944.4M620.35 1442.7V1944.4M626.72 1442.7V1944.4M639.46 1442.7V1944.4M645.82 1442.7V1944.4M652.19 1442.7V1944.4M658.56 1442.7V1944.4M671.29 1442.7V1944.4M677.66 1442.7V1944.4M684.03 1442.7V1944.4M690.4 1442.7V1944.4M703.13 1442.7V1944.4M709.5 1442.7V1944.4M715.87 1442.7V1944.4M722.23 1442.7V1944.4M734.97 1442.7V1944.4M741.34 1442.7V1944.4M747.7 1442.7V1944.4M754.07 1442.7V1944.4M766.81 1442.7V1944.4M773.17 1442.7V1944.4M779.54 1442.7V1944.4M785.91 1442.7V1944.4M798.64 1442.7V1944.4M805.01 1442.7V1944.4M811.38 1442.7V1944.4M817.75 1442.7V1944.4M830.48 1442.7V1944.4M836.85 1442.7V1944.4M843.22 1442.7V1944.4M849.58 1442.7V1944.4M862.32 1442.7V1944.4M868.69 1442.7V1944.4M875.05 1442.7V1944.4M881.42 1442.7V1944.4M894.16 1442.7V1944.4M900.52 1442.7V1944.4M906.89 1442.7V1944.4M913.26 1442.7V1944.4M925.99 1442.7V1944.4M932.36 1442.7V1944.4M938.73 1442.7V1944.4M945.1 1442.7V1944.4M957.83 1442.7V1944.4M964.2 1442.7V1944.4M970.57 1442.7V1944.4M976.93 1442.7V1944.4M989.67 1442.7V1944.4M996.04 1442.7V1944.4M1002.4 1442.7V1944.4M1008.77 1442.7V1944.4M1021.51 1442.7V1944.4M1027.87 1442.7V1944.4M1034.24 1442.7V1944.4M1040.61 1442.7V1944.4M1053.34 1442.7V1944.4M1059.71 1442.7V1944.4M1066.08 1442.7V1944.4M1072.45 1442.7V1944.4M1085.18 1442.7V1944.4M1091.55 1442.7V1944.4M1097.92 1442.7V1944.4M1104.28 1442.7V1944.4M1117.02 1442.7V1944.4M1123.39 1442.7V1944.4M1129.75 1442.7V1944.4M1136.12 1442.7V1944.4M1148.86 1442.7V1944.4M1155.22 1442.7V1944.4M1161.59 1442.7V1944.4M1167.96 1442.7V1944.4" stroke="#cbcbcb" stroke-width="1.2" fill="none"/>
<path d="M153.8 1904.8H1184.42M153.8 1865.21H1184.42M153.8 1825.62H1184.42M153.8 1786.03H1184.42M153.8 1746.44H1184.42M153.8 1706.85H1184.42M153.8 1667.26H1184.42M153.8 1627.67H1184.42M153.8 1588.08H1184.42M153.8 1548.49H1184.42M153.8 1508.9H1184.42M153.8 1469.31H1184.42M187.36 1442.7V1944.4M219.2 1442.7V1944.4M251.04 1442.7V1944.4M282.88 1442.7V1944.4M314.71 1442.7V1944.4M346.55 1442.7V1944.4M378.39 1442.7V1944.4M410.23 1442.7V1944.4M442.06 1442.7V1944.4M473.9 1442.7V1944.4M505.74 1442.7V1944.4M537.58 1442.7V1944.4M569.41 1442.7V1944.4M601.25 1442.7V1944.4M633.09 1442.7V1944.4M664.93 1442.7V1944.4M696.76 1442.7V1944.4M728.6 1442.7V1944.4M760.44 1442.7V1944.4M792.28 1442.7V1944.4M824.11 1442.7V1944.4M855.95 1442.7V1944.4M887.79 1442.7V1944.4M919.63 1442.7V1944.4M951.46 1442.7V1944.4M983.3 1442.7V1944.4M1015.14 1442.7V1944.4M1046.98 1442.7V1944.4M1078.81 1442.7V1944.4M1110.65 1442.7V1944.4M1142.49 1442.7V1944.4M1174.33 1442.7V1944.4" stroke="#6f6f6f" stroke-width="1.1" fill="none"/>
<path d="M156.8 1442.7H1184.42" stroke="#777" stroke-width="1.2"/>
<path d="M156.8 1944.4H1179.42M156.8 1944.4V1977M1179.42 1944.4V1961.4" stroke="#555" stroke-width="1.3" fill="none"/>
<text x="151.8" y="1910.1" class="yl">50.0</text>
<text x="151.8" y="1870.51" class="yl">100.0</text>
<text x="151.8" y="1830.92" class="yl">150.0</text>
<text x="151.8" y="1791.33" class="yl">200.0</text>
<text x="151.8" y="1751.74" class="yl">250.0</text>
<text x="151.8" y="1712.15" class="yl">300.0</text>
<text x="151.8" y="1672.56" class="yl">350.0</text>
<text x="151.8" y="1632.97" class="yl">400.0</text>
<text x="151.8" y="1593.38" class="yl">450.0</text>
<text x="151.8" y="1553.79" class="yl">500.0</text>
<text x="151.8" y="1514.2" class="yl">550.0</text>
<text x="151.8" y="1474.61" class="yl">600.0</text>
<text x="219.2" y="1958" class="xl">50</text>
<text x="282.88" y="1958" class="xl">100</text>
<text x="346.55" y="1958" class="xl">150</text>
<text x="410.23" y="1958" class="xl">200</text>
<text x="473.9" y="1958" class="xl">250</text>
<text x="537.58" y="1958" class="xl">300</text>
<text x="601.25" y="1958" class="xl">350</text>
<text x="664.93" y="1958" class="xl">400</text>
<text x="728.6" y="1958" class="xl">450</text>
<text x="792.28" y="1958" class="xl">500</text>
<text x="855.95" y="1958" class="xl">550</text>
<text x="919.63" y="1958" class="xl">600</text>
<text x="983.3" y="1958" class="xl">650</text>
<text x="1046.98" y="1958" class="xl">700</text>
<text x="1110.65" y="1958" class="xl">750</text>
<text x="1174.33" y="1958" class="xl">800</text>
<text x="158.3" y="1976.4" class="xl1">1</text>
<text x="1189.92" y="1976.4" class="xlr">804</text>
<text x="650.5" y="1972.2" class="fr">Frame</text>
<text x="117.5" y="1428.1" class="tmp">Temp</text>
<text x="129.5" y="1447.6" class="tmp" style="letter-spacing:0">°C</text>
<path d="M188 1424H230.5" stroke="#d2453c" stroke-width="2.2"/>
<path d="M243.5 1424H286.5" stroke="#6cc14f" stroke-width="2.2"/>
<text x="188.5" y="1439.4" class="lg">1e1.00</text>
<text x="243.5" y="1439.4" class="lg">2e1.00</text>
<path d="M186.1,1922.6 187.4,1921.3 188.6,1921.6 189.9,1920.9 191.2,1921.2 192.5,1921.0 193.7,1921.1 195.0,1920.6 196.3,1919.7 197.6,1920.4 198.8,1919.5 200.1,1919.4 201.4,1919.8 202.6,1919.2 203.9,1918.9 205.2,1919.3 206.5,1919.2 207.7,1918.5 209.0,1918.6 210.3,1917.8 211.6,1918.2 212.8,1918.5 214.1,1918.0 215.4,1918.2 216.7,1917.4 217.9,1917.2 219.2,1917.5 220.5,1917.6 221.7,1916.8 223.0,1917.2 224.3,1916.5 225.6,1917.2 226.8,1916.8 228.1,1916.8 229.4,1916.9 230.7,1915.7 231.9,1915.7 233.2,1916.4 234.5,1915.8 235.8,1916.6 237.0,1915.4 238.3,1915.4 239.6,1915.8 240.9,1915.7 242.1,1915.4 243.4,1915.2 244.7,1915.4 245.9,1915.5 247.2,1915.1 248.5,1915.1 249.8,1914.6 251.0,1914.7 252.3,1914.5 253.6,1915.1 254.9,1914.5 256.1,1914.4 257.4,1914.4 258.7,1914.1 260.0,1914.1 261.2,1914.4 262.5,1913.4 263.8,1913.3 265.0,1913.8 266.3,1913.2 267.6,1913.7 268.9,1913.7 270.1,1913.2 271.4,1912.5 272.7,1913.0 274.0,1913.4 275.2,1912.6 276.5,1912.8 277.8,1912.8 279.1,1912.3 280.3,1912.9 281.6,1912.9 282.9,1912.6 284.2,1911.6 285.4,1911.8 286.7,1912.0 288.0,1911.8 289.2,1911.2 290.5,1910.8 291.8,1911.4 293.1,1910.9 294.3,1910.1 295.6,1910.5 296.9,1910.7 298.2,1910.4 299.4,1910.3 300.7,1909.9 302.0,1909.9 303.3,1910.1 304.5,1909.8 305.8,1909.5 307.1,1909.8 308.3,1909.4 309.6,1909.6 310.9,1908.6 312.2,1908.4 313.4,1909.2 314.7,1908.4 316.0,1908.5 317.3,1908.4 318.5,1908.4 319.8,1908.0 321.1,1907.6 322.4,1908.3 323.6,1907.3 324.9,1907.7 326.2,1907.9 327.4,1907.3 328.7,1906.9 330.0,1907.1 331.3,1906.8 332.5,1906.9 333.8,1906.8 335.1,1906.1 336.4,1906.7 337.6,1905.8 338.9,1905.9 340.2,1906.1 341.5,1905.9 342.7,1905.8 344.0,1905.5 345.3,1905.4 346.6,1905.3 347.8,1906.0 349.1,1906.1 350.4,1905.0 351.6,1905.4 352.9,1905.4 354.2,1905.2 355.5,1905.5 356.7,1904.4 358.0,1905.0 359.3,1905.1 360.6,1905.4 361.8,1904.6 363.1,1904.6 364.4,1904.3 365.7,1904.5 366.9,1905.2 368.2,1905.3 369.5,1904.2 370.7,1905.0 372.0,1904.8 373.3,1904.8 374.6,1904.5 375.8,1904.4 377.1,1905.1 378.4,1904.9 379.7,1905.3 380.9,1904.3 382.2,1904.6 383.5,1905.2 384.8,1904.1 386.0,1904.5 387.3,1904.9 388.6,1904.6 389.9,1904.6 391.1,1904.3 392.4,1904.3 393.7,1904.6 394.9,1904.1 396.2,1905.2 397.5,1904.4 398.8,1903.9 400.0,1903.8 401.3,1903.8 402.6,1904.6 403.9,1904.8 405.1,1904.2 406.4,1903.1 407.7,1903.9 409.0,1904.3 410.2,1904.7 411.5,1903.9 412.8,1904.2 414.0,1903.8 415.3,1903.9 416.6,1905.0 417.9,1904.0 419.1,1903.6 420.4,1904.2 421.7,1904.5 423.0,1904.5 424.2,1904.6 425.5,1903.1 426.8,1903.1 428.1,1903.7 429.3,1902.6 430.6,1903.4 431.9,1902.9 433.1,1902.7 434.4,1902.2 435.7,1901.6 437.0,1900.7 438.2,1901.0 439.5,1901.1 440.8,1900.8 442.1,1900.7 443.3,1900.1 444.6,1900.4 445.9,1899.7 447.2,1899.3 448.4,1898.8 449.7,1899.4 451.0,1898.7 452.3,1898.5 453.5,1898.8 454.8,1899.1 456.1,1898.3 457.3,1897.5 458.6,1897.8 459.9,1896.5 461.2,1897.0 462.4,1897.4 463.7,1896.9 465.0,1896.5 466.3,1896.3 467.5,1896.4 468.8,1895.9 470.1,1894.9 471.4,1895.3 472.6,1895.4 473.9,1895.5 475.2,1895.9 476.4,1894.8 477.7,1894.8 479.0,1894.5 480.3,1894.5 481.5,1893.7 482.8,1893.3 484.1,1893.9 485.4,1894.0 486.6,1893.1 487.9,1892.4 489.2,1892.6 490.5,1892.4 491.7,1893.0 493.0,1892.4 494.3,1891.7 495.6,1891.6 496.8,1891.6 498.1,1891.1 499.4,1890.7 500.6,1890.9 501.9,1891.0 503.2,1891.2 504.5,1890.2 505.7,1890.2 507.0,1890.0 508.3,1889.2 509.6,1889.8 510.8,1889.4 512.1,1888.8 513.4,1889.3 514.7,1889.8 515.9,1888.8 517.2,1888.0 518.5,1888.5 519.7,1888.2 521.0,1888.8 522.3,1887.2 523.6,1888.4 524.8,1887.7 526.1,1887.3 527.4,1886.1 528.7,1886.8 529.9,1887.1 531.2,1887.3 532.5,1886.5 533.8,1886.8 535.0,1886.3 536.3,1885.9 537.6,1885.1 538.9,1886.1 540.1,1884.7 541.4,1886.1 542.7,1884.1 543.9,1885.2 545.2,1884.9 546.5,1884.8 547.8,1884.2 549.0,1884.3 550.3,1884.4 551.6,1884.5 552.9,1884.4 554.1,1884.1 555.4,1884.3 556.7,1884.3 558.0,1884.7 559.2,1883.9 560.5,1883.6 561.8,1884.3 563.0,1883.3 564.3,1883.7 565.6,1883.6 566.9,1884.4 568.1,1883.3 569.4,1882.9 570.7,1882.5 572.0,1883.7 573.2,1883.4 574.5,1883.0 575.8,1883.1 577.1,1883.7 578.3,1883.4 579.6,1882.9 580.9,1883.1 582.1,1883.4 583.4,1882.9 584.7,1884.2 586.0,1883.2 587.2,1883.7 588.5,1883.6 589.8,1883.0 591.1,1882.5 592.3,1883.2 593.6,1883.3 594.9,1882.6 596.2,1883.0 597.4,1884.5 598.7,1883.7 600.0,1883.7 601.3,1883.7 602.5,1884.2 603.8,1883.1 605.1,1883.3 606.3,1882.5 607.6,1883.5 608.9,1883.3 610.2,1883.8 611.4,1882.9 612.7,1882.9 614.0,1882.7 615.3,1883.0 616.5,1883.9 617.8,1883.0 619.1,1884.1 620.4,1884.0 621.6,1883.8 622.9,1882.7 624.2,1884.2 625.4,1884.3 626.7,1883.7 628.0,1883.3 629.3,1883.6 630.5,1883.7 631.8,1884.4 633.1,1884.2 634.4,1883.4 635.6,1884.0 636.9,1884.5 638.2,1884.3 639.5,1883.5 640.7,1883.3 642.0,1884.0 643.3,1884.7 644.6,1883.4 645.8,1884.6 647.1,1884.2 648.4,1883.9 649.6,1884.1 650.9,1884.1 652.2,1883.1 653.5,1883.7 654.7,1884.5 656.0,1884.0 657.3,1882.9 658.6,1883.6 659.8,1884.0 661.1,1882.9 662.4,1883.1 663.7,1883.2 664.9,1882.9 666.2,1883.3 667.5,1882.9 668.7,1882.6 670.0,1883.2 671.3,1882.1 672.6,1883.3 673.8,1881.5 675.1,1882.5 676.4,1882.3 677.7,1883.0 678.9,1881.9 680.2,1882.7 681.5,1881.9 682.8,1882.1 684.0,1882.4 685.3,1881.0 686.6,1881.8 687.8,1882.1 689.1,1881.9 690.4,1881.5 691.7,1881.5 692.9,1881.0 694.2,1881.7 695.5,1881.2 696.8,1881.5 698.0,1881.5 699.3,1880.6 700.6,1881.4 701.9,1881.7 703.1,1880.4 704.4,1880.9 705.7,1880.2 707.0,1880.1 708.2,1880.0 709.5,1880.2 710.8,1879.3 712.0,1880.6 713.3,1879.3 714.6,1879.9 715.9,1879.6 717.1,1879.9 718.4,1879.0 719.7,1879.2 721.0,1879.6 722.2,1879.2 723.5,1878.9 724.8,1879.1 726.1,1877.7 727.3,1878.5 728.6,1878.9 729.9,1878.1 731.1,1878.4 732.4,1878.7 733.7,1878.5 735.0,1879.1 736.2,1877.7 737.5,1877.2 738.8,1878.0 740.1,1878.3 741.3,1878.7 742.6,1878.3 743.9,1877.5 745.2,1877.7 746.4,1877.3 747.7,1877.6 749.0,1877.1 750.3,1877.0 751.5,1876.7 752.8,1876.6 754.1,1876.5 755.3,1876.9 756.6,1876.5 757.9,1876.9 759.2,1876.4 760.4,1876.0 761.7,1875.7 763.0,1876.6 764.3,1876.2 765.5,1875.9 766.8,1876.1 768.1,1875.5 769.4,1875.3 770.6,1875.5 771.9,1874.1 773.2,1875.1 774.4,1874.6 775.7,1875.7 777.0,1874.1 778.3,1874.3 779.5,1874.2 780.8,1875.5 782.1,1874.1 783.4,1874.4 784.6,1873.6 785.9,1873.8 787.2,1874.0 788.5,1873.8 789.7,1872.7 791.0,1872.7 792.3,1874.2 793.5,1873.3 794.8,1872.6 796.1,1873.1 797.4,1872.6 798.6,1872.8 799.9,1871.6 801.2,1872.0 802.5,1872.4 803.7,1871.5 805.0,1872.0 806.3,1871.5 807.6,1872.8 808.8,1873.5 810.1,1872.2 811.4,1872.7 812.7,1873.8 813.9,1874.2 815.2,1872.8 816.5,1872.9 817.7,1873.5 819.0,1873.4 820.3,1873.1 821.6,1874.0 822.8,1872.5 824.1,1874.1 825.4,1873.4 826.7,1873.4 827.9,1873.8 829.2,1874.0 830.5,1873.1 831.8,1874.7 833.0,1873.8 834.3,1872.8 835.6,1874.3 836.8,1874.9 838.1,1874.3 839.4,1875.5 840.7,1874.6 841.9,1874.9 843.2,1874.8 844.5,1874.9 845.8,1874.0 847.0,1874.4 848.3,1875.1 849.6,1873.8 850.9,1875.2 852.1,1873.8 853.4,1875.1 854.7,1875.5 856.0,1875.3 857.2,1874.3 858.5,1875.2 859.8,1875.4 861.0,1876.6 862.3,1875.7 863.6,1876.0 864.9,1876.2 866.1,1876.5 867.4,1877.2 868.7,1875.5 870.0,1877.0 871.2,1876.2 872.5,1876.3 873.8,1876.7 875.1,1876.8 876.3,1876.7 877.6,1877.4 878.9,1877.4 880.1,1877.2 881.4,1877.4 882.7,1877.9 884.0,1879.3 885.2,1877.9 886.5,1878.8 887.8,1877.4 889.1,1877.5 890.3,1878.3 891.6,1878.4 892.9,1880.0 894.2,1878.9 895.4,1879.4 896.7,1877.9 898.0,1880.0 899.3,1877.8 900.5,1879.5 901.8,1880.8 903.1,1878.4 904.3,1879.8 905.6,1879.6 906.9,1879.2 908.2,1881.0 909.4,1880.4 910.7,1880.1 912.0,1879.5 913.3,1880.6 914.5,1880.2 915.8,1881.8 917.1,1880.4 918.4,1881.5 919.6,1881.2 920.9,1881.0 922.2,1880.6 923.4,1881.7 924.7,1881.1 926.0,1881.7 927.3,1881.2 928.5,1882.0 929.8,1880.9 931.1,1882.6 932.4,1882.7 933.6,1881.3 934.9,1882.7 936.2,1881.9 937.5,1882.0 938.7,1883.7 940.0,1882.9 941.3,1883.1 942.5,1883.0 943.8,1884.0 945.1,1883.0 946.4,1883.1 947.6,1884.1 948.9,1883.4 950.2,1883.4 951.5,1884.8 952.7,1883.9 954.0,1883.3 955.3,1883.6 956.6,1884.9 957.8,1884.8 959.1,1884.4 960.4,1884.3 961.7,1884.2 962.9,1884.8 964.2,1884.4 965.5,1885.5 966.7,1884.0 968.0,1885.5 969.3,1886.1 970.6,1886.0 971.8,1886.9 973.1,1886.4 974.4,1886.2 975.7,1885.8 976.9,1885.5 978.2,1887.0 979.5,1887.0 980.8,1886.2 982.0,1886.1 983.3,1886.4 984.6,1886.9 985.8,1887.9 987.1,1887.7 988.4,1888.5 989.7,1888.0 990.9,1886.8 992.2,1886.7 993.5,1888.1 994.8,1887.6 996.0,1887.3 997.3,1889.0 998.6,1889.4 999.9,1889.0 1001.1,1890.1 1002.4,1888.3 1003.7,1888.9 1005.0,1889.1 1006.2,1889.0 1007.5,1888.8 1008.8,1889.2 1010.0,1890.1 1011.3,1889.0 1012.6,1889.9 1013.9,1889.4 1015.1,1890.1 1016.4,1889.7 1017.7,1890.9 1019.0,1889.9 1020.2,1890.2 1021.5,1889.4 1022.8,1890.8 1024.1,1890.9 1025.3,1889.9 1026.6,1891.9 1027.9,1890.1 1029.1,1890.7 1030.4,1891.1 1031.7,1890.8 1033.0,1891.1 1034.2,1891.7 1035.5,1890.6 1036.8,1891.8 1038.1,1891.2 1039.3,1891.5 1040.6,1892.0 1041.9,1892.0 1043.2,1891.5 1044.4,1892.0 1045.7,1890.9 1047.0,1891.3 1048.2,1892.3 1049.5,1891.4 1050.8,1893.8 1052.1,1891.1 1053.3,1893.3 1054.6,1893.4 1055.9,1891.8 1057.2,1893.8 1058.4,1893.3 1059.7,1892.6 1061.0,1894.4 1062.3,1893.1 1063.5,1892.5 1064.8,1893.7 1066.1,1892.2 1067.4,1894.0 1068.6,1892.5 1069.9,1893.3 1071.2,1893.6 1072.4,1893.9 1073.7,1894.5 1075.0,1893.1 1076.3,1894.8 1077.5,1894.1 1078.8,1893.6 1080.1,1893.9 1081.4,1893.8 1082.6,1894.8 1083.9,1895.4 1085.2,1894.4 1086.5,1894.7 1087.7,1893.9 1089.0,1896.2 1090.3,1894.9 1091.5,1894.7 1092.8,1895.4 1094.1,1896.3 1095.4,1895.2 1096.6,1894.5 1097.9,1895.8 1099.2,1896.1 1100.5,1896.2 1101.7,1896.3 1103.0,1897.0 1104.3,1894.0 1105.6,1896.0 1106.8,1895.0 1108.1,1895.1 1109.4,1896.5 1110.7,1895.7 1111.9,1894.9 1113.2,1895.3 1114.5,1895.6 1115.7,1897.0 1117.0,1897.0 1118.3,1896.6 1119.6,1895.5 1120.8,1897.3 1122.1,1896.3 1123.4,1896.0 1124.7,1896.4 1125.9,1897.0 1127.2,1897.6 1128.5,1896.7 1129.8,1897.5 1131.0,1897.0 1132.3,1897.8 1133.6,1897.9 1134.8,1897.9 1136.1,1898.4 1137.4,1897.0 1138.7,1898.8 1139.9,1897.5 1141.2,1898.2 1142.5,1897.6 1143.8,1899.3 1145.0,1898.1 1146.3,1898.1 1147.6,1897.2 1148.9,1897.6 1150.1,1898.1 1151.4,1898.5 1152.7,1898.5 1154.0,1897.8 1155.2,1897.7 1156.5,1898.3 1157.8,1897.9 1159.0,1900.0 1160.3,1898.2 1161.6,1897.5 1162.9,1899.0 1164.1,1899.6 1165.4,1898.2 1166.7,1900.7 1168.0,1898.5 1169.2,1900.4 1170.5,1899.2 1171.8,1900.5 1173.1,1898.5 1174.3,1899.7 1175.6,1900.3 1176.9,1899.9 1178.1,1898.9 1179.4,1898.9" stroke="#d6483e" stroke-width="1.3" fill="none" stroke-linejoin="round"/>
<path d="M156.8,1922.2 157.4,1922.2 158.1,1922.2 158.7,1922.2 159.3,1922.2 160.0,1922.2 160.6,1922.2 161.3,1922.2 161.9,1922.2 162.5,1922.2 163.2,1922.2 163.8,1922.2 164.4,1922.2 165.1,1922.2 165.7,1922.2 166.4,1922.2 167.0,1922.2 167.6,1922.2 168.3,1922.2 168.9,1922.2 169.5,1922.2 170.2,1922.2 170.8,1922.2 171.4,1922.2 172.1,1922.2 172.7,1922.2 173.4,1922.2 174.0,1922.2 174.6,1922.2 175.3,1922.2 175.9,1922.2 176.5,1922.2 177.2,1922.2 177.8,1922.2 178.4,1922.2 179.1,1922.2 179.7,1922.2 180.4,1922.2 181.0,1922.2 181.6,1922.2 182.3,1922.2 182.9,1922.2 183.5,1922.2 184.2,1922.2 184.8,1922.2 185.5,1922.2 186.1,1922.2 186.7,1916.6 187.4,1902.8 188.0,1880.2 188.6,1861.9 189.3,1844.7 189.9,1821.3 190.5,1815.5 191.2,1803.9 191.8,1789.9 192.5,1781.8 193.1,1770.6 193.7,1760.5 194.4,1754.5 195.0,1745.3 195.6,1738.3 196.3,1732.3 196.9,1732.9 197.6,1726.0 198.2,1718.6 198.8,1719.5 199.5,1715.1 200.1,1709.2 200.7,1698.0 201.4,1719.0 202.0,1709.1 202.6,1700.9 203.3,1697.5 203.9,1714.9 204.6,1683.9 205.2,1708.5 205.8,1690.0 206.5,1701.6 207.1,1695.3 207.7,1682.8 208.4,1691.4 209.0,1696.3 209.7,1706.6 210.3,1702.7 210.9,1709.5 211.6,1676.0 212.2,1709.7 212.8,1716.6 213.5,1677.9 214.1,1680.9 214.7,1696.1 215.4,1684.0 216.0,1699.5 216.7,1696.6 217.3,1685.6 217.9,1686.1 218.6,1694.2 219.2,1673.9 219.8,1682.4 220.5,1688.1 221.1,1700.9 221.7,1687.9 222.4,1692.2 223.0,1689.7 223.7,1681.0 224.3,1694.4 224.9,1686.0 225.6,1680.7 226.2,1684.9 226.8,1666.0 227.5,1705.5 228.1,1688.7 228.8,1699.7 229.4,1688.5 230.0,1665.3 230.7,1704.0 231.3,1690.5 231.9,1680.9 232.6,1686.4 233.2,1678.0 233.8,1702.7 234.5,1677.2 235.1,1696.5 235.8,1699.0 236.4,1680.9 237.0,1681.7 237.7,1693.8 238.3,1694.6 238.9,1688.2 239.6,1686.2 240.2,1687.7 240.9,1696.2 241.5,1709.3 242.1,1672.3 242.8,1683.8 243.4,1698.1 244.0,1701.4 244.7,1692.3 245.3,1688.7 245.9,1705.5 246.6,1668.5 247.2,1677.7 247.9,1684.6 248.5,1676.9 249.1,1677.3 249.8,1668.0 250.4,1676.5 251.0,1664.3 251.7,1660.5 252.3,1679.0 252.9,1679.7 253.6,1683.4 254.2,1675.8 254.9,1680.2 255.5,1671.7 256.1,1667.8 256.8,1665.2 257.4,1682.8 258.0,1659.1 258.7,1673.5 259.3,1671.3 260.0,1675.3 260.6,1690.8 261.2,1666.8 261.9,1688.1 262.5,1657.4 263.1,1668.5 263.8,1652.2 264.4,1661.7 265.0,1660.9 265.7,1653.3 266.3,1668.4 267.0,1651.4 267.6,1669.0 268.2,1664.7 268.9,1674.5 269.5,1661.2 270.1,1659.7 270.8,1672.1 271.4,1680.2 272.1,1666.7 272.7,1661.5 273.3,1667.6 274.0,1676.2 274.6,1673.3 275.2,1668.2 275.9,1689.9 276.5,1671.3 277.1,1649.1 277.8,1678.5 278.4,1666.7 279.1,1645.8 279.7,1656.2 280.3,1653.7 281.0,1665.2 281.6,1677.9 282.2,1638.4 282.9,1659.7 283.5,1660.2 284.2,1644.6 284.8,1653.5 285.4,1661.5 286.1,1674.0 286.7,1663.2 287.3,1662.8 288.0,1668.4 288.6,1670.2 289.2,1671.3 289.9,1661.2 290.5,1666.2 291.2,1654.8 291.8,1647.7 292.4,1655.1 293.1,1658.1 293.7,1640.6 294.3,1650.4 295.0,1673.9 295.6,1665.1 296.2,1654.6 296.9,1666.3 297.5,1647.6 298.2,1675.5 298.8,1677.0 299.4,1644.1 300.1,1648.3 300.7,1672.6 301.3,1653.4 302.0,1638.7 302.6,1666.2 303.3,1666.8 303.9,1666.8 304.5,1663.8 305.2,1672.1 305.8,1657.5 306.4,1668.2 307.1,1650.7 307.7,1625.6 308.3,1662.9 309.0,1640.2 309.6,1636.9 310.3,1676.2 310.9,1648.5 311.5,1649.6 312.2,1653.1 312.8,1639.7 313.4,1653.8 314.1,1644.3 314.7,1652.7 315.4,1649.5 316.0,1656.7 316.6,1621.0 317.3,1647.7 317.9,1659.8 318.5,1623.9 319.2,1627.9 319.8,1648.3 320.4,1653.4 321.1,1654.1 321.7,1630.7 322.4,1648.8 323.0,1653.0 323.6,1634.5 324.3,1647.3 324.9,1644.5 325.5,1620.8 326.2,1633.1 326.8,1628.3 327.4,1637.8 328.1,1627.3 328.7,1644.2 329.4,1631.1 330.0,1629.9 330.6,1644.4 331.3,1651.7 331.9,1633.5 332.5,1638.5 333.2,1631.6 333.8,1621.3 334.5,1634.3 335.1,1634.2 335.7,1629.4 336.4,1635.6 337.0,1647.9 337.6,1647.2 338.3,1663.0 338.9,1658.4 339.5,1668.8 340.2,1667.4 340.8,1675.4 341.5,1681.1 342.1,1686.4 342.7,1679.0 343.4,1687.9 344.0,1687.3 344.6,1691.3 345.3,1707.0 345.9,1700.4 346.6,1712.3 347.2,1715.3 347.8,1717.6 348.5,1730.8 349.1,1724.9 349.7,1725.3 350.4,1724.6 351.0,1723.5 351.6,1733.3 352.3,1732.7 352.9,1730.1 353.6,1743.8 354.2,1727.3 354.8,1742.7 355.5,1733.3 356.1,1740.6 356.7,1734.3 357.4,1740.6 358.0,1748.0 358.6,1758.3 359.3,1751.6 359.9,1752.9 360.6,1754.1 361.2,1764.9 361.8,1765.0 362.5,1767.0 363.1,1764.2 363.7,1771.8 364.4,1770.5 365.0,1767.8 365.7,1776.0 366.3,1769.5 366.9,1776.2 367.6,1780.5 368.2,1776.1 368.8,1780.6 369.5,1786.0 370.1,1789.1 370.7,1788.4 371.4,1788.5 372.0,1786.6 372.7,1792.4 373.3,1798.1 373.9,1803.1 374.6,1797.7 375.2,1798.7 375.8,1797.0 376.5,1806.0 377.1,1811.0 377.8,1803.2 378.4,1809.2 379.0,1815.4 379.7,1804.5 380.3,1809.4 380.9,1814.6 381.6,1815.3 382.2,1821.3 382.8,1815.5 383.5,1822.9 384.1,1824.1 384.8,1824.6 385.4,1829.4 386.0,1821.4 386.7,1819.9 387.3,1824.9 387.9,1837.8 388.6,1831.7 389.2,1834.3 389.9,1831.3 390.5,1842.8 391.1,1844.0 391.8,1838.2 392.4,1833.5 393.0,1839.5 393.7,1831.0 394.3,1844.5 394.9,1842.1 395.6,1844.0 396.2,1847.9 396.9,1841.1 397.5,1851.6 398.1,1851.4 398.8,1849.6 399.4,1850.9 400.0,1845.5 400.7,1852.8 401.3,1849.7 401.9,1854.3 402.6,1848.5 403.2,1854.4 403.9,1854.2 404.5,1862.3 405.1,1854.3 405.8,1860.2 406.4,1855.3 407.0,1857.7 407.7,1858.4 408.3,1856.9 409.0,1860.3 409.6,1865.6 410.2,1862.4 410.9,1862.9 411.5,1868.5 412.1,1862.6 412.8,1860.1 413.4,1865.2 414.0,1866.3 414.7,1865.6 415.3,1864.0 416.0,1870.5 416.6,1865.8 417.2,1870.4 417.9,1864.8 418.5,1863.6 419.1,1852.0 419.8,1829.5 420.4,1813.8 421.1,1801.6 421.7,1781.5 422.3,1775.9 423.0,1770.6 423.6,1760.9 424.2,1758.3 424.9,1748.9 425.5,1745.8 426.1,1736.3 426.8,1721.8 427.4,1720.1 428.1,1720.9 428.7,1713.1 429.3,1704.3 430.0,1705.4 430.6,1688.1 431.2,1687.2 431.9,1681.9 432.5,1675.7 433.1,1674.0 433.8,1671.1 434.4,1672.1 435.1,1663.1 435.7,1646.9 436.3,1638.6 437.0,1638.3 437.6,1643.1 438.2,1630.2 438.9,1624.3 439.5,1629.6 440.2,1608.3 440.8,1621.7 441.4,1610.5 442.1,1614.6 442.7,1596.9 443.3,1609.1 444.0,1603.0 444.6,1584.4 445.2,1600.9 445.9,1594.0 446.5,1584.0 447.2,1583.8 447.8,1599.4 448.4,1578.6 449.1,1584.5 449.7,1570.2 450.3,1593.9 451.0,1570.8 451.6,1572.4 452.3,1577.8 452.9,1576.7 453.5,1567.8 454.2,1576.2 454.8,1571.6 455.4,1572.8 456.1,1561.4 456.7,1553.4 457.3,1572.9 458.0,1554.1 458.6,1548.5 459.3,1533.4 459.9,1553.8 460.5,1530.1 461.2,1545.2 461.8,1532.2 462.4,1533.1 463.1,1531.0 463.7,1537.6 464.4,1545.5 465.0,1508.2 465.6,1506.3 466.3,1529.4 466.9,1529.0 467.5,1528.5 468.2,1547.7 468.8,1543.1 469.4,1515.5 470.1,1505.3 470.7,1525.5 471.4,1537.4 472.0,1539.2 472.6,1530.4 473.3,1506.5 473.9,1517.3 474.5,1542.8 475.2,1465.4 475.8,1516.8 476.4,1512.4 477.1,1487.0 477.7,1493.0 478.4,1515.6 479.0,1531.3 479.6,1516.1 480.3,1540.1 480.9,1532.6 481.5,1503.1 482.2,1510.9 482.8,1506.3 483.5,1495.9 484.1,1531.7 484.7,1511.1 485.4,1524.8 486.0,1521.5 486.6,1523.9 487.3,1519.3 487.9,1554.1 488.5,1554.8 489.2,1529.8 489.8,1523.7 490.5,1541.7 491.1,1535.9 491.7,1559.8 492.4,1518.8 493.0,1485.1 493.6,1511.0 494.3,1545.7 494.9,1541.1 495.6,1539.0 496.2,1516.9 496.8,1532.0 497.5,1535.9 498.1,1572.8 498.7,1559.8 499.4,1571.1 500.0,1548.8 500.6,1530.9 501.3,1545.6 501.9,1489.1 502.6,1511.5 503.2,1567.4 503.8,1524.0 504.5,1528.4 505.1,1544.8 505.7,1526.0 506.4,1569.5 507.0,1560.6 507.6,1556.6 508.3,1545.1 508.9,1555.4 509.6,1522.5 510.2,1559.8 510.8,1557.7 511.5,1575.5 512.1,1546.1 512.7,1541.0 513.4,1568.8 514.0,1578.2 514.7,1581.0 515.3,1536.3 515.9,1543.5 516.6,1553.0 517.2,1545.0 517.8,1550.3 518.5,1551.3 519.1,1588.4 519.7,1551.1 520.4,1548.3 521.0,1541.1 521.7,1544.6 522.3,1574.2 522.9,1558.0 523.6,1587.9 524.2,1537.5 524.8,1587.2 525.5,1550.5 526.1,1577.0 526.8,1577.5 527.4,1578.9 528.0,1568.9 528.7,1556.5 529.3,1543.4 529.9,1568.5 530.6,1548.2 531.2,1548.0 531.8,1527.0 532.5,1574.0 533.1,1558.0 533.8,1551.3 534.4,1561.0 535.0,1552.6 535.7,1575.4 536.3,1570.0 536.9,1574.8 537.6,1575.1 538.2,1579.5 538.9,1565.6 539.5,1585.6 540.1,1574.1 540.8,1553.7 541.4,1591.8 542.0,1582.7 542.7,1571.3 543.3,1583.1 543.9,1581.9 544.6,1531.1 545.2,1558.5 545.9,1572.4 546.5,1577.4 547.1,1591.9 547.8,1585.0 548.4,1605.1 549.0,1555.3 549.7,1574.6 550.3,1549.9 550.9,1566.4 551.6,1601.9 552.2,1533.3 552.9,1558.2 553.5,1552.0 554.1,1577.8 554.8,1578.3 555.4,1571.9 556.0,1537.4 556.7,1591.6 557.3,1588.7 558.0,1560.9 558.6,1605.3 559.2,1544.6 559.9,1591.5 560.5,1550.5 561.1,1574.5 561.8,1578.4 562.4,1592.8 563.0,1547.2 563.7,1578.0 564.3,1597.3 565.0,1562.6 565.6,1576.7 566.2,1565.4 566.9,1582.1 567.5,1568.8 568.1,1567.7 568.8,1575.7 569.4,1605.2 570.1,1569.8 570.7,1556.4 571.3,1575.1 572.0,1568.6 572.6,1573.4 573.2,1594.8 573.9,1572.9 574.5,1598.0 575.1,1613.7 575.8,1620.3 576.4,1584.1 577.1,1592.7 577.7,1600.3 578.3,1618.4 579.0,1632.4 579.6,1618.8 580.2,1629.1 580.9,1637.4 581.5,1642.6 582.1,1646.7 582.8,1657.7 583.4,1647.0 584.1,1650.2 584.7,1652.8 585.3,1663.5 586.0,1672.1 586.6,1676.4 587.2,1674.0 587.9,1666.2 588.5,1674.4 589.2,1683.0 589.8,1683.0 590.4,1683.5 591.1,1690.1 591.7,1691.6 592.3,1694.1 593.0,1700.8 593.6,1706.3 594.2,1705.6 594.9,1698.8 595.5,1715.8 596.2,1712.2 596.8,1714.5 597.4,1714.5 598.1,1719.5 598.7,1715.5 599.3,1723.3 600.0,1723.2 600.6,1721.4 601.3,1734.1 601.9,1723.1 602.5,1725.3 603.2,1739.0 603.8,1734.7 604.4,1739.7 605.1,1739.7 605.7,1735.8 606.3,1750.8 607.0,1739.2 607.6,1743.1 608.3,1747.0 608.9,1738.1 609.5,1753.2 610.2,1759.9 610.8,1752.8 611.4,1755.9 612.1,1761.5 612.7,1770.5 613.3,1771.3 614.0,1756.7 614.6,1773.3 615.3,1761.8 615.9,1766.4 616.5,1782.1 617.2,1773.2 617.8,1773.1 618.4,1772.9 619.1,1773.9 619.7,1776.2 620.4,1783.9 621.0,1786.6 621.6,1787.8 622.3,1786.1 622.9,1793.8 623.5,1795.8 624.2,1782.7 624.8,1789.9 625.4,1790.8 626.1,1797.7 626.7,1801.7 627.4,1801.3 628.0,1804.3 628.6,1805.0 629.3,1810.2 629.9,1802.6 630.5,1805.2 631.2,1804.8 631.8,1809.1 632.5,1813.6 633.1,1804.1 633.7,1809.8 634.4,1812.5 635.0,1812.6 635.6,1818.5 636.3,1815.8 636.9,1822.8 637.5,1817.3 638.2,1818.9 638.8,1820.6 639.5,1823.6 640.1,1825.8 640.7,1826.8 641.4,1826.2 642.0,1831.8 642.6,1828.9 643.3,1829.8 643.9,1838.1 644.6,1840.7 645.2,1834.6 645.8,1837.9 646.5,1840.5 647.1,1843.0 647.7,1843.5 648.4,1846.3 649.0,1843.0 649.6,1847.9 650.3,1849.4 650.9,1839.0 651.6,1828.6 652.2,1824.3 652.8,1823.4 653.5,1816.4 654.1,1813.1 654.7,1807.4 655.4,1804.2 656.0,1796.5 656.6,1794.8 657.3,1788.6 657.9,1779.5 658.6,1772.1 659.2,1757.1 659.8,1760.9 660.5,1754.8 661.1,1740.7 661.7,1733.8 662.4,1726.2 663.0,1722.5 663.7,1721.6 664.3,1711.6 664.9,1711.2 665.6,1700.7 666.2,1686.8 666.8,1692.2 667.5,1685.3 668.1,1675.2 668.7,1685.2 669.4,1671.3 670.0,1675.0 670.7,1674.5 671.3,1670.2 671.9,1671.5 672.6,1657.9 673.2,1660.0 673.8,1661.0 674.5,1652.5 675.1,1662.9 675.8,1664.7 676.4,1636.9 677.0,1646.2 677.7,1633.3 678.3,1641.4 678.9,1644.5 679.6,1635.7 680.2,1617.2 680.8,1617.5 681.5,1621.6 682.1,1609.0 682.8,1614.2 683.4,1608.0 684.0,1615.8 684.7,1623.4 685.3,1601.4 685.9,1593.9 686.6,1605.0 687.2,1580.9 687.8,1589.8 688.5,1574.1 689.1,1581.8 689.8,1574.5 690.4,1586.2 691.0,1595.9 691.7,1558.0 692.3,1564.6 692.9,1568.6 693.6,1583.5 694.2,1562.1 694.9,1581.2 695.5,1561.9 696.1,1556.4 696.8,1559.9 697.4,1576.9 698.0,1556.6 698.7,1560.9 699.3,1555.3 699.9,1545.1 700.6,1569.1 701.2,1570.8 701.9,1587.4 702.5,1536.9 703.1,1568.2 703.8,1537.8 704.4,1549.8 705.0,1537.2 705.7,1549.8 706.3,1545.5 707.0,1555.6 707.6,1546.2 708.2,1567.9 708.9,1538.8 709.5,1577.6 710.1,1561.4 710.8,1559.9 711.4,1553.4 712.0,1556.7 712.7,1569.4 713.3,1524.7 714.0,1588.2 714.6,1566.8 715.2,1558.0 715.9,1567.3 716.5,1543.8 717.1,1560.1 717.8,1551.6 718.4,1574.9 719.1,1545.7 719.7,1548.8 720.3,1581.4 721.0,1539.9 721.6,1577.0 722.2,1577.7 722.9,1549.3 723.5,1536.4 724.1,1552.4 724.8,1564.3 725.4,1572.7 726.1,1573.5 726.7,1560.4 727.3,1558.5 728.0,1577.9 728.6,1557.1 729.2,1596.3 729.9,1561.7 730.5,1578.6 731.1,1584.2 731.8,1535.7 732.4,1557.8 733.1,1571.3 733.7,1583.0 734.3,1547.0 735.0,1566.5 735.6,1579.3 736.2,1600.9 736.9,1555.6 737.5,1558.5 738.2,1562.4 738.8,1585.5 739.4,1597.0 740.1,1554.1 740.7,1575.6 741.3,1560.6 742.0,1604.2 742.6,1576.3 743.2,1562.2 743.9,1573.4 744.5,1546.5 745.2,1560.7 745.8,1558.7 746.4,1564.5 747.1,1578.1 747.7,1586.8 748.3,1587.8 749.0,1557.6 749.6,1579.1 750.3,1607.8 750.9,1574.3 751.5,1576.4 752.2,1585.3 752.8,1572.4 753.4,1591.9 754.1,1544.4 754.7,1586.0 755.3,1594.4 756.0,1578.7 756.6,1578.0 757.3,1568.2 757.9,1578.0 758.5,1572.2 759.2,1581.9 759.8,1586.5 760.4,1598.5 761.1,1594.2 761.7,1584.6 762.3,1602.6 763.0,1572.6 763.6,1589.3 764.3,1567.7 764.9,1573.6 765.5,1590.3 766.2,1551.1 766.8,1565.3 767.4,1596.6 768.1,1580.5 768.7,1596.2 769.4,1601.5 770.0,1585.7 770.6,1595.6 771.3,1575.7 771.9,1609.8 772.5,1585.3 773.2,1570.1 773.8,1586.0 774.4,1561.7 775.1,1560.9 775.7,1609.1 776.4,1596.7 777.0,1600.0 777.6,1569.1 778.3,1599.5 778.9,1623.9 779.5,1602.4 780.2,1598.0 780.8,1595.9 781.5,1596.4 782.1,1593.6 782.7,1606.5 783.4,1595.3 784.0,1602.1 784.6,1602.0 785.3,1599.8 785.9,1582.9 786.5,1591.9 787.2,1585.9 787.8,1607.1 788.5,1621.6 789.1,1598.8 789.7,1583.2 790.4,1596.7 791.0,1604.4 791.6,1620.4 792.3,1591.4 792.9,1609.0 793.5,1622.0 794.2,1591.2 794.8,1595.7 795.5,1577.9 796.1,1615.8 796.7,1618.2 797.4,1595.0 798.0,1573.1 798.6,1594.1 799.3,1589.5 799.9,1618.0 800.6,1598.5 801.2,1619.2 801.8,1622.1 802.5,1600.7 803.1,1600.1 803.7,1613.9 804.4,1610.4 805.0,1609.8 805.6,1618.3 806.3,1620.8 806.9,1623.1 807.6,1634.1 808.2,1639.5 808.8,1634.7 809.5,1628.1 810.1,1647.5 810.7,1651.8 811.4,1642.6 812.0,1658.8 812.7,1661.0 813.3,1648.0 813.9,1656.6 814.6,1658.2 815.2,1675.9 815.8,1658.8 816.5,1669.0 817.1,1663.9 817.7,1668.2 818.4,1662.9 819.0,1670.2 819.7,1666.7 820.3,1681.8 820.9,1674.2 821.6,1679.6 822.2,1688.4 822.8,1695.7 823.5,1692.3 824.1,1698.4 824.8,1698.9 825.4,1701.9 826.0,1705.5 826.7,1704.2 827.3,1706.8 827.9,1715.4 828.6,1716.9 829.2,1714.5 829.8,1720.9 830.5,1723.4 831.1,1728.4 831.8,1735.6 832.4,1730.3 833.0,1736.8 833.7,1734.8 834.3,1738.5 834.9,1741.7 835.6,1738.0 836.2,1749.1 836.8,1741.8 837.5,1747.7 838.1,1740.1 838.8,1757.7 839.4,1758.6 840.0,1755.4 840.7,1755.5 841.3,1762.6 841.9,1759.5 842.6,1764.6 843.2,1774.0 843.9,1767.7 844.5,1767.1 845.1,1771.2 845.8,1775.4 846.4,1780.7 847.0,1774.7 847.7,1773.1 848.3,1787.9 848.9,1780.1 849.6,1792.9 850.2,1785.3 850.9,1798.1 851.5,1790.3 852.1,1788.2 852.8,1799.3 853.4,1800.4 854.0,1795.5 854.7,1798.8 855.3,1797.8 856.0,1794.7 856.6,1807.7 857.2,1802.8 857.9,1813.7 858.5,1816.2 859.1,1812.0 859.8,1818.8 860.4,1808.1 861.0,1807.8 861.7,1810.7 862.3,1821.2 863.0,1818.8 863.6,1824.1 864.2,1818.9 864.9,1823.7 865.5,1816.0 866.1,1820.2 866.8,1828.6 867.4,1818.3 868.0,1824.9 868.7,1823.5 869.3,1828.3 870.0,1824.3 870.6,1826.0 871.2,1828.4 871.9,1826.9 872.5,1831.0 873.1,1833.3 873.8,1838.6 874.4,1845.1 875.1,1832.5 875.7,1836.1 876.3,1843.9 877.0,1837.1 877.6,1840.8 878.2,1842.1 878.9,1836.2 879.5,1840.5 880.1,1850.8 880.8,1841.0 881.4,1833.3 882.1,1828.8 882.7,1827.0 883.3,1826.4 884.0,1819.5 884.6,1824.0 885.2,1807.8 885.9,1808.8 886.5,1806.6 887.2,1803.1 887.8,1795.5 888.4,1801.2 889.1,1803.5 889.7,1805.2 890.3,1796.9 891.0,1805.5 891.6,1805.0 892.2,1807.3 892.9,1812.6 893.5,1809.3 894.2,1814.4 894.8,1818.3 895.4,1821.0 896.1,1820.5 896.7,1822.6 897.3,1817.3 898.0,1830.9 898.6,1820.3 899.3,1820.2 899.9,1821.0 900.5,1829.9 901.2,1831.4 901.8,1825.4 902.4,1828.5 903.1,1830.8 903.7,1835.9 904.3,1835.0 905.0,1839.1 905.6,1830.8 906.3,1833.9 906.9,1839.9 907.5,1836.1 908.2,1840.2 908.8,1848.4 909.4,1841.1 910.1,1846.5 910.7,1844.2 911.3,1847.9 912.0,1850.7 912.6,1849.7 913.3,1846.5 913.9,1854.7 914.5,1855.1 915.2,1858.0 915.8,1856.3 916.4,1852.8 917.1,1854.4 917.7,1856.1 918.4,1857.4 919.0,1855.5 919.6,1856.7 920.3,1857.2 920.9,1865.0 921.5,1865.0 922.2,1861.5 922.8,1862.4 923.4,1866.4 924.1,1866.2 924.7,1863.8 925.4,1867.3 926.0,1869.4 926.6,1867.4 927.3,1870.2 927.9,1868.1 928.5,1869.5 929.2,1871.4 929.8,1873.3 930.5,1869.7 931.1,1874.5 931.7,1872.9 932.4,1874.4 933.0,1874.1 933.6,1875.5 934.3,1873.4 934.9,1875.7 935.5,1878.4 936.2,1879.2 936.8,1876.2 937.5,1878.4 938.1,1876.5 938.7,1878.4 939.4,1877.7 940.0,1882.5 940.6,1881.4 941.3,1879.3 941.9,1883.2 942.5,1880.6 943.2,1881.9 943.8,1880.7 944.5,1882.6 945.1,1883.4 945.7,1881.7 946.4,1880.3 947.0,1884.5 947.6,1883.0 948.3,1884.5 948.9,1883.2 949.6,1883.5 950.2,1885.1 950.8,1885.9 951.5,1884.3 952.1,1884.4 952.7,1883.4 953.4,1884.6 954.0,1883.4 954.6,1884.4 955.3,1883.0 955.9,1883.6 956.6,1886.6 957.2,1885.4 957.8,1884.6 958.5,1885.5 959.1,1884.8 959.7,1883.3 960.4,1886.4 961.0,1886.3 961.7,1886.6 962.3,1884.4 962.9,1883.0 963.6,1886.8 964.2,1883.2 964.8,1887.6 965.5,1885.8 966.1,1885.9 966.7,1885.8 967.4,1887.1 968.0,1887.7 968.7,1886.6 969.3,1885.2 969.9,1886.8 970.6,1886.1 971.2,1886.1 971.8,1885.0 972.5,1888.1 973.1,1885.0 973.8,1884.7 974.4,1888.4 975.0,1885.8 975.7,1889.4 976.3,1888.3 976.9,1887.7 977.6,1887.5 978.2,1889.7 978.8,1888.5 979.5,1889.6 980.1,1886.6 980.8,1888.9 981.4,1887.6 982.0,1888.6 982.7,1887.4 983.3,1890.9 983.9,1888.3 984.6,1890.0 985.2,1889.5 985.8,1888.0 986.5,1887.5 987.1,1889.7 987.8,1889.3 988.4,1886.4 989.0,1888.7 989.7,1887.7 990.3,1887.7 990.9,1888.1 991.6,1889.3 992.2,1889.4 992.9,1888.3 993.5,1892.1 994.1,1890.3 994.8,1889.0 995.4,1888.9 996.0,1888.9 996.7,1890.4 997.3,1890.8 997.9,1891.6 998.6,1889.7 999.2,1890.1 999.9,1890.0 1000.5,1892.9 1001.1,1890.7 1001.8,1891.5 1002.4,1889.2 1003.0,1889.5 1003.7,1889.6 1004.3,1889.8 1005.0,1889.1 1005.6,1890.2 1006.2,1891.6 1006.9,1890.5 1007.5,1890.6 1008.1,1890.3 1008.8,1890.2 1009.4,1890.7 1010.0,1890.6 1010.7,1891.0 1011.3,1891.2 1012.0,1892.3 1012.6,1891.9 1013.2,1891.6 1013.9,1889.0 1014.5,1891.4 1015.1,1892.3 1015.8,1890.6 1016.4,1890.7 1017.0,1891.7 1017.7,1890.3 1018.3,1892.6 1019.0,1892.8 1019.6,1892.2 1020.2,1892.0 1020.9,1891.9 1021.5,1891.7 1022.1,1890.6 1022.8,1891.7 1023.4,1891.3 1024.1,1892.2 1024.7,1893.1 1025.3,1892.0 1026.0,1893.2 1026.6,1891.2 1027.2,1892.4 1027.9,1893.4 1028.5,1892.3 1029.1,1892.1 1029.8,1892.9 1030.4,1893.6 1031.1,1892.7 1031.7,1893.0 1032.3,1893.1 1033.0,1895.2 1033.6,1893.5 1034.2,1890.1 1034.9,1890.7 1035.5,1891.4 1036.2,1893.0 1036.8,1891.6 1037.4,1892.1 1038.1,1892.8 1038.7,1892.9 1039.3,1892.9 1040.0,1895.1 1040.6,1891.8 1041.2,1892.0 1041.9,1892.8 1042.5,1892.7 1043.2,1894.2 1043.8,1893.4 1044.4,1894.1 1045.1,1894.6 1045.7,1893.1 1046.3,1890.8 1047.0,1891.4 1047.6,1893.5 1048.2,1894.1 1048.9,1891.1 1049.5,1894.7 1050.2,1894.5 1050.8,1893.3 1051.4,1891.5 1052.1,1892.0 1052.7,1896.3 1053.3,1896.2 1054.0,1895.4 1054.6,1892.6 1055.3,1895.2 1055.9,1895.0 1056.5,1892.8 1057.2,1895.4 1057.8,1892.4 1058.4,1896.6 1059.1,1895.1 1059.7,1892.8 1060.3,1895.7 1061.0,1894.2 1061.6,1893.5 1062.3,1893.7 1062.9,1894.1 1063.5,1894.1 1064.2,1893.9 1064.8,1894.6 1065.4,1895.4 1066.1,1892.5 1066.7,1896.2 1067.4,1894.8 1068.0,1895.9 1068.6,1895.4 1069.3,1893.8 1069.9,1897.1 1070.5,1897.0 1071.2,1894.7 1071.8,1895.2 1072.4,1895.2 1073.1,1895.6 1073.7,1894.8 1074.4,1895.9 1075.0,1894.1 1075.6,1895.7 1076.3,1897.3 1076.9,1896.9 1077.5,1895.0 1078.2,1896.7 1078.8,1897.7 1079.5,1895.2 1080.1,1895.8 1080.7,1894.7 1081.4,1894.1 1082.0,1897.6 1082.6,1895.3 1083.3,1896.9 1083.9,1896.2 1084.5,1895.5 1085.2,1895.8 1085.8,1896.4 1086.5,1896.0 1087.1,1895.9 1087.7,1898.8 1088.4,1895.1 1089.0,1895.4 1089.6,1895.8 1090.3,1896.5 1090.9,1894.5 1091.5,1896.8 1092.2,1895.8 1092.8,1897.3 1093.5,1898.8 1094.1,1896.3 1094.7,1896.1 1095.4,1898.9 1096.0,1895.1 1096.6,1896.0 1097.3,1896.4 1097.9,1897.9 1098.6,1898.3 1099.2,1897.1 1099.8,1896.7 1100.5,1897.3 1101.1,1897.0 1101.7,1896.5 1102.4,1896.7 1103.0,1896.5 1103.6,1897.2 1104.3,1899.2 1104.9,1896.7 1105.6,1896.7 1106.2,1896.0 1106.8,1896.8 1107.5,1898.7 1108.1,1896.7 1108.7,1895.9 1109.4,1895.1 1110.0,1897.4 1110.7,1897.1 1111.3,1897.5 1111.9,1896.1 1112.6,1897.0 1113.2,1894.8 1113.8,1897.3 1114.5,1898.0 1115.1,1896.2 1115.7,1896.8 1116.4,1898.6 1117.0,1897.7 1117.7,1898.4 1118.3,1899.6 1118.9,1897.2 1119.6,1898.6 1120.2,1897.7 1120.8,1897.2 1121.5,1898.8 1122.1,1897.1 1122.7,1898.6 1123.4,1897.8 1124.0,1898.6 1124.7,1899.5 1125.3,1900.8 1125.9,1899.0 1126.6,1899.1 1127.2,1895.6 1127.8,1898.7 1128.5,1898.0 1129.1,1899.1 1129.8,1897.0 1130.4,1897.5 1131.0,1898.2 1131.7,1898.2 1132.3,1901.2 1132.9,1899.5 1133.6,1898.9 1134.2,1896.4 1134.8,1895.9 1135.5,1899.4 1136.1,1898.1 1136.8,1898.4 1137.4,1896.1 1138.0,1899.6 1138.7,1898.5 1139.3,1898.2 1139.9,1899.0 1140.6,1899.4 1141.2,1898.4 1141.9,1898.6 1142.5,1900.0 1143.1,1899.6 1143.8,1898.7 1144.4,1899.7 1145.0,1897.5 1145.7,1900.4 1146.3,1900.3 1146.9,1898.1 1147.6,1899.5 1148.2,1899.8 1148.9,1898.2 1149.5,1899.9 1150.1,1901.7 1150.8,1899.6 1151.4,1898.5 1152.0,1899.4 1152.7,1897.6 1153.3,1899.2 1154.0,1899.2 1154.6,1897.8 1155.2,1900.4 1155.9,1902.4 1156.5,1899.2 1157.1,1898.6 1157.8,1899.5 1158.4,1901.1 1159.0,1899.0 1159.7,1898.3 1160.3,1899.5 1161.0,1901.2 1161.6,1900.4 1162.2,1899.6 1162.9,1901.9 1163.5,1898.8 1164.1,1901.9 1164.8,1897.8 1165.4,1901.0 1166.0,1899.1 1166.7,1899.7 1167.3,1902.8 1168.0,1899.6 1168.6,1901.3 1169.2,1900.9 1169.9,1900.2 1170.5,1902.5 1171.1,1901.0 1171.8,1900.1 1172.4,1899.5 1173.1,1899.3 1173.7,1900.0 1174.3,1903.3 1175.0,1900.2 1175.6,1901.9 1176.2,1903.0 1176.9,1900.3 1177.5,1899.5 1178.1,1900.9 1178.8,1901.3 1179.4,1902.3" stroke="#72be58" stroke-width="1.3" fill="none" stroke-linejoin="round"/>
<path d="M103 1400.3H1234" stroke="#222" stroke-width="2"/>
<path d="M103.5 1399.3V1977.5H1233.5V1399.3" stroke="#666" stroke-width="1" fill="none"/>
<svg x="833.2" y="745.0" width="307.2" height="234.0" viewBox="0 0 307.2 234.0" overflow="hidden">
<defs>
<filter id="t1b1" color-interpolation-filters="sRGB" x="-30%" y="-30%" width="160%" height="160%"><feGaussianBlur stdDeviation="7"/></filter>
<filter id="t1b2" color-interpolation-filters="sRGB" x="-30%" y="-30%" width="160%" height="160%"><feGaussianBlur stdDeviation="3"/></filter>
<filter id="t1b3" color-interpolation-filters="sRGB" x="-30%" y="-30%" width="160%" height="160%"><feGaussianBlur stdDeviation="1.5"/></filter>
<filter id="t1b05" color-interpolation-filters="sRGB" x="-30%" y="-30%" width="160%" height="160%"><feGaussianBlur stdDeviation="0.6"/></filter>
<filter id="t1nz" color-interpolation-filters="sRGB" x="0" y="0" width="100%" height="100%">
  <feTurbulence type="fractalNoise" baseFrequency="0.8" numOctaves="1" seed="3" result="n"/>
  <feColorMatrix in="n" type="matrix" values="0 0 0 0 1  0 0 0 0 1  0 0 0 0 1  0 0 0 0.9 -0.38"/>
</filter>
</defs>
<rect width="307.2" height="234.0" fill="#1b2b6c"/>
<g filter="url(#t1b1)">
<path d="M92.0,0.0 307.0,0.0 307.0,175.0 250.0,168.0 200.0,165.0 150.0,160.0 100.0,160.0 90.0,120.0Z" fill="#2142a0"/>
<path d="M200.0,150.0 307.0,140.0 307.0,234.0 250.0,234.0 210.0,190.0Z" fill="#1d3588"/>
</g>
<g filter="url(#t1b2)">
<path d="M93.0,8.0 150.0,6.0 165.0,18.0 205.0,35.0 225.0,55.0 228.0,90.0 205.0,110.0 180.0,135.0 150.0,148.0 110.0,150.0 96.0,140.0 92.0,60.0Z" fill="#48a6d6"/>
<path d="M103.0,22.0 135.0,18.0 150.0,30.0 200.0,40.0 218.0,60.0 220.0,88.0 196.0,108.0 170.0,128.0 140.0,142.0 112.0,142.0 104.0,125.0 102.0,60.0Z" fill="#48ac46"/>
<path d="M200.0,5.0 225.0,5.0 240.0,30.0 236.0,60.0 220.0,70.0 205.0,45.0Z" fill="#48ac46"/>
</g>
<g filter="url(#t1b2)"><path d="M96.0,86.0 134.0,88.0 134.0,101.0 96.0,99.0Z" fill="#44a2d4"/></g>
<g filter="url(#t1b3)"><path d="M140.0,88.0 205.0,88.0 200.0,104.0 136.0,104.0Z" fill="#b6d43e"/></g>
<g filter="url(#t1b3)"><circle cx="125.7" cy="63.6" r="6.3" fill="#1e3ca6"/><circle cx="124.8" cy="116.6" r="6" fill="#1e3ca6"/><path d="M150.0,138.0 190.0,116.0 212.0,100.0 232.0,108.0 220.0,132.0 190.0,150.0 160.0,152.0Z" fill="#2040a4"/></g>
<g filter="url(#t1b05)">
<path d="M142.7,14.3 176.8,17.0 182.2,20.5 187.6,33.1 196.6,37.6 205.5,45.7 212.7,56.5 215.9,69.0 214.5,79.8 210.0,87.9 205.5,91.5 151.7,88.8 149.9,79.8 142.7,88.8 140.9,84.3 133.7,78.0 135.5,61.8 124.8,49.3 123.0,42.1 127.4,30.4 131.9,31.3 140.9,25.9 140.9,17.0Z" fill="#e0e048" stroke="#dcdc44" stroke-width="5.5" stroke-linejoin="round"/>
<path d="M142.7,14.3 176.8,17.0 182.2,20.5 187.6,33.1 196.6,37.6 205.5,45.7 212.7,56.5 215.9,69.0 214.5,79.8 210.0,87.9 205.5,91.5 151.7,88.8 149.9,79.8 142.7,88.8 140.9,84.3 133.7,78.0 135.5,61.8 124.8,49.3 123.0,42.1 127.4,30.4 131.9,31.3 140.9,25.9 140.9,17.0Z" fill="#ea9290" stroke="#e0301e" stroke-width="2.6" stroke-linejoin="round"/>
</g>
<g filter="url(#t1b05)">
<path d="M132.8,102.2 191.2,104.9 184.9,110.3 169.6,118.4 151.7,129.2 137.3,136.3 133.7,131.9 131.9,115.7Z" fill="#e0e048" stroke="#dcdc44" stroke-width="5.5" stroke-linejoin="round"/>
<path d="M132.8,102.2 191.2,104.9 184.9,110.3 169.6,118.4 151.7,129.2 137.3,136.3 133.7,131.9 131.9,115.7Z" fill="#ea9290" stroke="#e0301e" stroke-width="2.6" stroke-linejoin="round"/>
</g>
<g filter="url(#t1b3)"><path d="M127.0,33.0 141.0,27.0 148.0,22.0 152.0,40.0 148.0,62.0 140.0,70.0 134.0,62.0 126.0,48.0Z" fill="#e0483c"/></g>
<g filter="url(#t1b05)"><rect x="144" y="63" width="6" height="28" rx="3" fill="#d8d840"/><rect x="145.8" y="75" width="2.6" height="14" fill="#2050c0"/><circle cx="147" cy="63.5" r="3.2" fill="#e03a2a"/><circle cx="147" cy="63.5" r="1.4" fill="#60b040"/></g>
<g filter="url(#t1b05)">
<path d="M162.0,0.0 186.0,0.0 186.0,13.0 162.0,12.0Z" fill="#e0402e"/>
<path d="M134.0,0.0 156.0,0.0 155.0,9.0 138.0,8.0Z" fill="#e8a83a"/>
<path d="M108.0,0.0 136.0,0.0 136.0,8.0 120.0,12.0 110.0,10.0Z" fill="#58b048"/>
<path d="M117.0,8.0 126.0,7.0 128.0,14.0 118.0,15.0Z" fill="#c8d840"/>
<path d="M112.0,32.0 124.0,29.0 128.0,40.0 116.0,44.0Z" fill="#d8d040"/>
</g>
<g stroke="#1a2c88" fill="none" stroke-linecap="round" filter="url(#t1b05)">
<path d="M100,4 L180,16 L307,38" stroke-width="5"/>
<path d="M203,0 L196,22 L212,45" stroke-width="3.5"/>
<path d="M225,0 Q222,12 214,20" stroke-width="3.5"/>
<path d="M214,93 L252,78 L307,64" stroke-width="5"/>
<path d="M192,106 L200,145 L212,170" stroke-width="4"/>
<path d="M200,145 L250,128 L307,110" stroke-width="4"/>
<path d="M176,118 L196,122" stroke-width="3"/>
</g>
<g fill="none" stroke-linecap="round" filter="url(#t1b3)">
<path d="M195,160 Q240,200 300,234" stroke="#1f3a94" stroke-width="9"/>
<path d="M188,165 Q225,205 275,234" stroke="#101a48" stroke-width="3"/>
<path d="M205,160 Q250,196 307,226" stroke="#101a48" stroke-width="2.5"/>
</g>
<circle cx="236" cy="84" r="3.2" fill="#4a8ad0" filter="url(#t1b05)"/>
<g filter="url(#t1b05)"><ellipse cx="200" cy="115" rx="2.5" ry="4" fill="#e04a30"/><ellipse cx="200" cy="118" rx="2.5" ry="2" fill="#e0d040"/><ellipse cx="213" cy="131" rx="4" ry="4" fill="#e8b038"/><ellipse cx="214" cy="128" rx="2" ry="2" fill="#e05030"/><ellipse cx="190" cy="140" rx="3" ry="2" fill="#d8d040"/><ellipse cx="222" cy="146" rx="3" ry="1.8" fill="#c8d040"/><ellipse cx="203" cy="148" rx="2" ry="1.5" fill="#40c0c0"/></g>
<rect width="307.2" height="234.0" filter="url(#t1nz)" opacity="0.4"/>
<path d="M33,13 L185.5,69 M81,7.5 L181,27" stroke="#8a8a8a" stroke-width="0.9" fill="none"/>
<rect x="178" y="58.1" width="20.2" height="26.1" fill="none" stroke="#444" stroke-width="1"/>
<rect x="177" y="15.2" width="42" height="19.3" fill="none" stroke="#a08a98" stroke-width="1"/>
<path d="M181.5,69H189.5M185.5,65V73M177,27H185M181,23V31" stroke="#111" stroke-width="1.1"/>
<rect x="1.3" y="1.6" width="31.7" height="12.4" fill="#fff"/>
<rect x="48.9" y="1.6" width="32.1" height="12.4" fill="#fff"/>
<text x="2.3" y="12" class="tl">1 54.8</text>
<text x="50" y="12" class="tl">2 53.6</text>
</svg>
<svg x="833.2" y="1400.7" width="307.2" height="234.6" viewBox="0 0 307.2 234.6" overflow="hidden">
<defs>
<filter id="t2b1" color-interpolation-filters="sRGB" x="-30%" y="-30%" width="160%" height="160%"><feGaussianBlur stdDeviation="7"/></filter>
<filter id="t2b2" color-interpolation-filters="sRGB" x="-30%" y="-30%" width="160%" height="160%"><feGaussianBlur stdDeviation="3"/></filter>
<filter id="t2b3" color-interpolation-filters="sRGB" x="-30%" y="-30%" width="160%" height="160%"><feGaussianBlur stdDeviation="1.5"/></filter>
<filter id="t2b05" color-interpolation-filters="sRGB" x="-30%" y="-30%" width="160%" height="160%"><feGaussianBlur stdDeviation="0.6"/></filter>
<filter id="t2nz" color-interpolation-filters="sRGB" x="0" y="0" width="100%" height="100%">
  <feTurbulence type="fractalNoise" baseFrequency="0.8" numOctaves="1" seed="7" result="n"/>
  <feColorMatrix in="n" type="matrix" values="0 0 0 0 1  0 0 0 0 1  0 0 0 0 1  0 0 0 0.9 -0.38"/>
</filter>
</defs>
<rect width="307.2" height="234.6" fill="#1a3c9c"/>
<g filter="url(#t2b1)">
<path d="M0.0,170.0 307.0,160.0 307.0,234.0 0.0,234.0Z" fill="#183892"/>
<path d="M98.0,0.0 260.0,0.0 262.0,120.0 230.0,160.0 180.0,160.0 110.0,150.0 98.0,140.0Z" fill="#2048aa"/>
</g>
<g filter="url(#t2b2)">
<path d="M222.0,0.0 252.0,0.0 254.0,55.0 236.0,62.0 224.0,40.0Z" fill="#3468c4"/>
<path d="M96.0,42.0 134.0,42.0 134.0,128.0 182.0,134.0 180.0,154.0 112.0,152.0 96.0,134.0Z" fill="#4aa8d8"/>
<path d="M99.0,45.0 131.0,45.0 133.0,126.0 176.0,131.0 170.0,146.0 114.0,142.0 101.0,130.0Z" fill="#48ac46"/>
<path d="M213.0,45.0 243.0,50.0 242.0,76.0 228.0,100.0 208.0,114.0 198.0,104.0 210.0,80.0Z" fill="#48ac46"/>
<path d="M112.0,0.0 134.0,0.0 134.0,36.0 116.0,38.0 110.0,20.0Z" fill="#44a6c8"/>
</g>
<g filter="url(#t2b05)"><ellipse cx="104" cy="50" rx="3.1" ry="2.7" fill="#2c5cb6"/><ellipse cx="113" cy="48" rx="3.1" ry="2.7" fill="#2c5cb6"/><ellipse cx="122" cy="51" rx="3.1" ry="2.7" fill="#2c5cb6"/><ellipse cx="101" cy="59" rx="3.1" ry="2.7" fill="#2c5cb6"/><ellipse cx="110" cy="58" rx="3.1" ry="2.7" fill="#2c5cb6"/><ellipse cx="119" cy="60" rx="3.1" ry="2.7" fill="#2c5cb6"/><ellipse cx="105" cy="68" rx="3.1" ry="2.7" fill="#2c5cb6"/><ellipse cx="114" cy="67" rx="3.1" ry="2.7" fill="#2c5cb6"/><ellipse cx="123" cy="69" rx="3.1" ry="2.7" fill="#2c5cb6"/><ellipse cx="100" cy="77" rx="3.1" ry="2.7" fill="#2c5cb6"/><ellipse cx="109" cy="76" rx="3.1" ry="2.7" fill="#2c5cb6"/><ellipse cx="118" cy="78" rx="3.1" ry="2.7" fill="#2c5cb6"/><ellipse cx="104" cy="86" rx="3.1" ry="2.7" fill="#2c5cb6"/><ellipse cx="113" cy="85" rx="3.1" ry="2.7" fill="#2c5cb6"/><ellipse cx="100" cy="94" rx="3.1" ry="2.7" fill="#2c5cb6"/><ellipse cx="109" cy="95" rx="3.1" ry="2.7" fill="#2c5cb6"/></g>
<g filter="url(#t2b3)"><circle cx="125" cy="117" r="5" fill="#1f3ea8"/><circle cx="128" cy="66" r="3" fill="#1f3ea8"/></g>
<g filter="url(#t2b05)"><path d="M115.0,0.0 128.0,0.0 127.0,12.0 116.0,12.0Z" fill="#b8d040"/><path d="M120.0,14.0 133.0,12.0 134.0,26.0 122.0,28.0Z" fill="#e05030"/><path d="M116.0,28.0 128.0,27.0 130.0,36.0 118.0,37.0Z" fill="#d8c838"/></g>
<g filter="url(#t2b05)">
<path d="M143.0,44.8 206.5,45.4 213.7,56.7 215.5,71.1 212.5,85.5 206.5,93.8 194.5,101.0 180.1,107.0 164.6,116.6 149.0,126.2 137.1,128.6 132.3,119.0 134.7,101.0 139.5,89.1 135.9,75.9 134.7,59.1 140.7,49.6Z" fill="#e0e048" stroke="#dcdc44" stroke-width="5.5" stroke-linejoin="round"/>
<path d="M143.0,44.8 206.5,45.4 213.7,56.7 215.5,71.1 212.5,85.5 206.5,93.8 194.5,101.0 180.1,107.0 164.6,116.6 149.0,126.2 137.1,128.6 132.3,119.0 134.7,101.0 139.5,89.1 135.9,75.9 134.7,59.1 140.7,49.6Z" fill="#ea9290" stroke="#e0301e" stroke-width="2.6" stroke-linejoin="round"/>
</g>
<g filter="url(#t2b05)">
<path d="M134.0,3.0 142.0,1.0 195.0,37.5 192.0,39.0 134.0,36.0Z" fill="#e0e048" stroke="#dcdc44" stroke-width="5.5" stroke-linejoin="round"/>
<path d="M134.0,3.0 142.0,1.0 195.0,37.5 192.0,39.0 134.0,36.0Z" fill="#ea9290" stroke="#e0301e" stroke-width="2.6" stroke-linejoin="round"/>
</g>
<g filter="url(#t2b05)">
<path d="M160.0,-2.0 186.0,-2.0 184.0,12.0 178.0,16.0 160.0,4.0Z" fill="#e0e048" stroke="#dcdc44" stroke-width="5.5" stroke-linejoin="round"/>
<path d="M160.0,-2.0 186.0,-2.0 184.0,12.0 178.0,16.0 160.0,4.0Z" fill="#ea9290" stroke="#e0301e" stroke-width="2.6" stroke-linejoin="round"/>
</g>
<g filter="url(#t2b05)"><rect x="143" y="63" width="6" height="26" rx="3" fill="#d8d840"/><rect x="144.8" y="74" width="2.6" height="12" fill="#2050c0"/><circle cx="146" cy="62" r="3.2" fill="#e03a2a"/><circle cx="146" cy="62" r="1.4" fill="#60b040"/><path d="M131.0,48.0 138.0,47.0 137.0,58.0 131.0,56.0Z" fill="#e0402e"/></g>
<g stroke="#1a3290" fill="none" stroke-linecap="round" filter="url(#t2b05)">
<path d="M142,-1 L196,37" stroke-width="5.5"/>
<path d="M96,40.5 L200,41 L307,46" stroke-width="4"/>
<path d="M197,38 L218,52 L250,80 L307,108" stroke-width="4.5"/>
<path d="M196,0 L200,18 L214,34 M214,0 L212,28 M232,0 L228,36" stroke-width="3.5"/>
<path d="M185,108 L195,150 L205,168" stroke-width="4"/>
<path d="M196,140 L240,118 L290,80 L307,70" stroke-width="3.5"/>
<path d="M205,170 L260,130 L307,100" stroke-width="3"/>
</g>
<g fill="none" stroke-linecap="round" filter="url(#t2b3)">
<path d="M200,165 Q250,200 290,234" stroke="#1f3c96" stroke-width="9"/>
<path d="M190,170 Q230,210 262,234" stroke="#12206a" stroke-width="3"/>
</g>
<g filter="url(#t2b05)"><ellipse cx="199" cy="115" rx="3" ry="6" fill="#e03a2a"/><ellipse cx="191" cy="122" rx="2" ry="4" fill="#d8d040"/><ellipse cx="199" cy="139" rx="3" ry="5" fill="#48b040"/><ellipse cx="199" cy="141" rx="1.5" ry="2" fill="#d8d040"/><ellipse cx="235" cy="91" rx="3" ry="3.5" fill="#48b8c0"/><ellipse cx="206" cy="20" rx="3.5" ry="7" fill="#48b040"/><ellipse cx="220" cy="20" rx="3" ry="7" fill="#48b040"/><ellipse cx="191" cy="148" rx="3" ry="3" fill="#48b8c0"/><ellipse cx="212" cy="128" rx="3" ry="6" fill="#48b040"/><ellipse cx="214" cy="142" rx="4" ry="3" fill="#48b8c0"/></g>
<rect width="307.2" height="234.6" filter="url(#t2nz)" opacity="0.4"/>
<path d="M33,13 L199.5,70 M81,7.5 L185.5,34.5" stroke="#8a8a8a" stroke-width="0.9" fill="none"/>
<rect x="178.6" y="58.7" width="18.9" height="26.1" fill="none" stroke="#444" stroke-width="1"/>
<rect x="177.1" y="15.7" width="41.8" height="18.8" fill="none" stroke="#a08a98" stroke-width="1"/>
<path d="M195.5,70H203.5M199.5,66V74M181.5,34.5H189.5M185.5,30.5V38.5" stroke="#111" stroke-width="1.1"/>
<rect x="1.3" y="1.6" width="31.7" height="12.4" fill="#fff"/>
<rect x="48.9" y="1.6" width="32.1" height="12.4" fill="#fff"/>
<text x="2.3" y="12" class="tl">1 56.1</text>
<text x="50" y="12" class="tl">2 54.6</text>
</svg>
<rect x="1145.5" y="745" width="87.5" height="234.5" fill="#ececec" stroke="#888" stroke-width="1"/>
<defs><linearGradient id="cbg1" x1="0" y1="0" x2="0" y2="1"><stop offset="0" stop-color="#faf6f6"/><stop offset="0.04" stop-color="#f6eaea"/><stop offset="0.11" stop-color="#eab0b0"/><stop offset="0.2" stop-color="#de4a3e"/><stop offset="0.25" stop-color="#dc3424"/><stop offset="0.32" stop-color="#e46a2c"/><stop offset="0.39" stop-color="#eaa83a"/><stop offset="0.43" stop-color="#ece84e"/><stop offset="0.49" stop-color="#a8cc42"/><stop offset="0.56" stop-color="#4aa63a"/><stop offset="0.62" stop-color="#3a9a4a"/><stop offset="0.67" stop-color="#44aaa0"/><stop offset="0.72" stop-color="#4cb0e0"/><stop offset="0.77" stop-color="#3a78c8"/><stop offset="0.82" stop-color="#2a4aa8"/><stop offset="0.87" stop-color="#102c88"/><stop offset="0.93" stop-color="#101c48"/><stop offset="1" stop-color="#04040c"/></linearGradient></defs>
<rect x="1146.4" y="752.6" width="14.699999999999818" height="218.69999999999993" fill="url(#cbg1)"/>
<path d="M1161.1 749.3h2.5M1161.1 755.3h2.5M1161.1 761.3h2.5M1161.1 767.3h2.5M1161.1 773.3h2.5M1161.1 779.3h2.5M1161.1 785.3h2.5M1161.1 791.3h2.5M1161.1 797.3h2.5M1161.1 803.3h2.5M1161.1 809.3h2.5M1161.1 815.3h2.5M1161.1 821.3h2.5M1161.1 827.3h2.5M1161.1 833.3h2.5M1161.1 839.3h2.5M1161.1 845.3h2.5M1161.1 851.3h2.5M1161.1 857.3h2.5M1161.1 863.3h2.5M1161.1 869.3h2.5M1161.1 875.3h2.5M1161.1 881.3h2.5M1161.1 887.3h2.5M1161.1 893.3h2.5M1161.1 899.3h2.5M1161.1 905.3h2.5M1161.1 911.3h2.5M1161.1 917.3h2.5M1161.1 923.3h2.5M1161.1 929.3h2.5M1161.1 935.3h2.5M1161.1 941.3h2.5M1161.1 947.3h2.5M1161.1 953.3h2.5M1161.1 959.3h2.5M1161.1 965.3h2.5" stroke="#999" stroke-width="1"/>
<path d="M1161.1 761.3h4M1161.1 791.3h4M1161.1 821.5h4M1161.1 851.7h4M1161.1 881.8h4M1161.1 912h4M1161.1 942.3h4" stroke="#222" stroke-width="1.2"/>
<text x="1172.8" y="765.2" class="cb">55.0</text>
<text x="1172.8" y="795.2" class="cb">50.0</text>
<text x="1172.8" y="825.4" class="cb">45.0</text>
<text x="1172.8" y="855.6" class="cb">40.0</text>
<text x="1172.8" y="885.7" class="cb">35.0</text>
<text x="1172.8" y="915.9" class="cb">30.0</text>
<text x="1172.8" y="946.2" class="cb">25.0</text>
<path d="M1161.1 753.2H1197M1161.1 971.3H1197" stroke="#888" stroke-width="1"/>
<text x="1204.5" y="756.8" class="cb">56.2</text>
<text x="1204.5" y="975.2" class="cb">20.1</text>
<rect x="1145.8" y="1400" width="87.20000000000005" height="235.5" fill="#ececec" stroke="#888" stroke-width="1"/>
<defs><linearGradient id="cbg2" x1="0" y1="0" x2="0" y2="1"><stop offset="0" stop-color="#faf6f6"/><stop offset="0.04" stop-color="#f6eaea"/><stop offset="0.11" stop-color="#eab0b0"/><stop offset="0.2" stop-color="#de4a3e"/><stop offset="0.25" stop-color="#dc3424"/><stop offset="0.32" stop-color="#e46a2c"/><stop offset="0.39" stop-color="#eaa83a"/><stop offset="0.43" stop-color="#ece84e"/><stop offset="0.49" stop-color="#a8cc42"/><stop offset="0.56" stop-color="#4aa63a"/><stop offset="0.62" stop-color="#3a9a4a"/><stop offset="0.67" stop-color="#44aaa0"/><stop offset="0.72" stop-color="#4cb0e0"/><stop offset="0.77" stop-color="#3a78c8"/><stop offset="0.82" stop-color="#2a4aa8"/><stop offset="0.87" stop-color="#102c88"/><stop offset="0.93" stop-color="#101c48"/><stop offset="1" stop-color="#04040c"/></linearGradient></defs>
<rect x="1146.6" y="1409.1" width="14.700000000000045" height="215.4000000000001" fill="url(#cbg2)"/>
<path d="M1161.3 1410.54h2.5M1161.3 1417.4h2.5M1161.3 1424.26h2.5M1161.3 1431.12h2.5M1161.3 1437.98h2.5M1161.3 1444.84h2.5M1161.3 1451.7h2.5M1161.3 1458.56h2.5M1161.3 1465.42h2.5M1161.3 1472.28h2.5M1161.3 1479.14h2.5M1161.3 1486h2.5M1161.3 1492.86h2.5M1161.3 1499.72h2.5M1161.3 1506.58h2.5M1161.3 1513.44h2.5M1161.3 1520.3h2.5M1161.3 1527.16h2.5M1161.3 1534.02h2.5M1161.3 1540.88h2.5M1161.3 1547.74h2.5M1161.3 1554.6h2.5M1161.3 1561.46h2.5M1161.3 1568.32h2.5M1161.3 1575.18h2.5M1161.3 1582.04h2.5M1161.3 1588.9h2.5M1161.3 1595.76h2.5M1161.3 1602.62h2.5M1161.3 1609.48h2.5M1161.3 1616.34h2.5M1161.3 1623.2h2.5" stroke="#999" stroke-width="1"/>
<path d="M1161.3 1417.4h4M1161.3 1451.7h4M1161.3 1486.2h4M1161.3 1520.4h4M1161.3 1554.5h4M1161.3 1588.6h4M1161.3 1622.9h4" stroke="#222" stroke-width="1.2"/>
<text x="1172.8" y="1421.3" class="cb">55.0</text>
<text x="1172.8" y="1455.6" class="cb">50.0</text>
<text x="1172.8" y="1490.1" class="cb">45.0</text>
<text x="1172.8" y="1524.3" class="cb">40.0</text>
<text x="1172.8" y="1558.4" class="cb">35.0</text>
<text x="1172.8" y="1592.5" class="cb">30.0</text>
<text x="1172.8" y="1626.8" class="cb">25.0</text>
<path d="M1161.3 1409.4H1197M1161.3 1623.9H1197" stroke="#888" stroke-width="1"/>
<text x="1204.5" y="1412.7" class="cb">56.1</text>
<text x="1204.5" y="1631.2" class="cb">24.2</text>
</svg>
</body></html>
